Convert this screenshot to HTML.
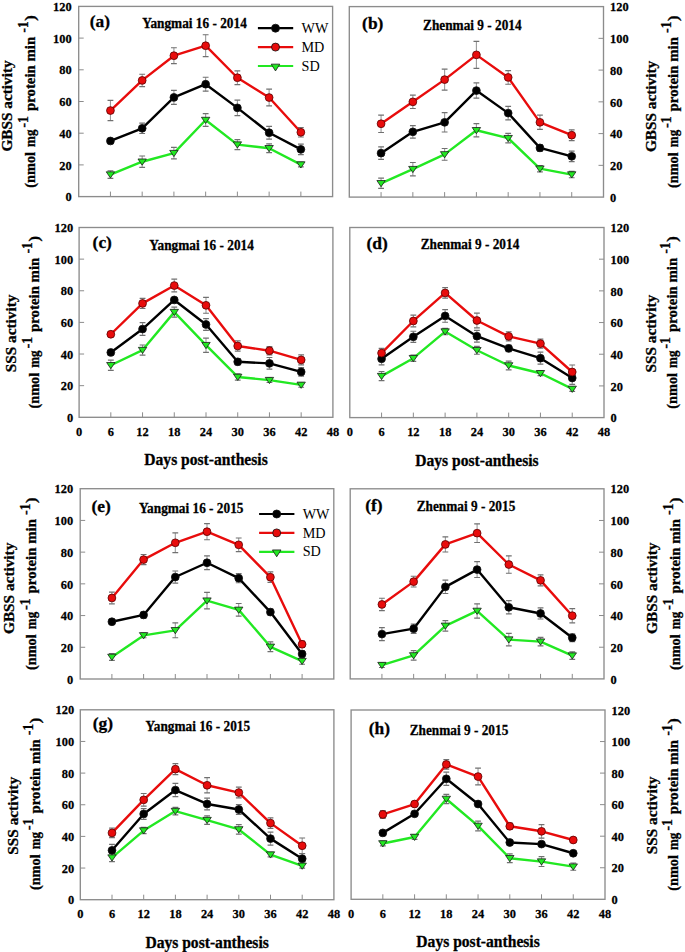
<!DOCTYPE html>
<html><head><meta charset="utf-8"><style>
html,body{margin:0;padding:0;background:#fff;}
svg{display:block;}
text{font-family:'Liberation Serif', serif;fill:#000;}
.tk{font-size:12.4px;font-weight:bold;stroke:#000;stroke-width:0.25px;}
.xt{font-size:15.6px;font-weight:bold;stroke:#000;stroke-width:0.3px;}
.tt{font-size:13.3px;font-weight:bold;stroke:#000;stroke-width:0.25px;}
.lb{font-size:17.4px;font-weight:bold;stroke:#000;stroke-width:0.3px;}
.lg{font-size:14.2px;}
.yt{font-size:15.3px;font-weight:bold;stroke:#000;stroke-width:0.3px;}
.yt2{font-size:14.5px;font-weight:bold;stroke:#000;stroke-width:0.3px;}
.yt2s{font-size:14.0px;font-weight:bold;stroke:#000;stroke-width:0.3px;}
</style></head><body>
<svg width="685" height="952" viewBox="0 0 685 952">
<rect width="685" height="952" fill="#fff"/>
<rect x="78.7" y="6.4" width="253.9" height="190.2" fill="none" stroke="#8c8c8c" stroke-width="1.35"/>
<line x1="110.44" y1="196.6" x2="110.44" y2="191.6" stroke="#8c8c8c" stroke-width="1"/>
<line x1="142.18" y1="196.6" x2="142.18" y2="191.6" stroke="#8c8c8c" stroke-width="1"/>
<line x1="173.91" y1="196.6" x2="173.91" y2="191.6" stroke="#8c8c8c" stroke-width="1"/>
<line x1="205.65" y1="196.6" x2="205.65" y2="191.6" stroke="#8c8c8c" stroke-width="1"/>
<line x1="237.39" y1="196.6" x2="237.39" y2="191.6" stroke="#8c8c8c" stroke-width="1"/>
<line x1="269.13" y1="196.6" x2="269.13" y2="191.6" stroke="#8c8c8c" stroke-width="1"/>
<line x1="300.86" y1="196.6" x2="300.86" y2="191.6" stroke="#8c8c8c" stroke-width="1"/>
<line x1="78.7" y1="164.9" x2="83.7" y2="164.9" stroke="#8c8c8c" stroke-width="1"/>
<line x1="78.7" y1="133.2" x2="83.7" y2="133.2" stroke="#8c8c8c" stroke-width="1"/>
<line x1="78.7" y1="101.5" x2="83.7" y2="101.5" stroke="#8c8c8c" stroke-width="1"/>
<line x1="78.7" y1="69.8" x2="83.7" y2="69.8" stroke="#8c8c8c" stroke-width="1"/>
<line x1="78.7" y1="38.1" x2="83.7" y2="38.1" stroke="#8c8c8c" stroke-width="1"/>
<text transform="translate(71.7 196.6) scale(1 1.08)" y="4.3" text-anchor="end" class="tk">0</text>
<text transform="translate(71.7 164.9) scale(1 1.08)" y="4.3" text-anchor="end" class="tk">20</text>
<text transform="translate(71.7 133.2) scale(1 1.08)" y="4.3" text-anchor="end" class="tk">40</text>
<text transform="translate(71.7 101.5) scale(1 1.08)" y="4.3" text-anchor="end" class="tk">60</text>
<text transform="translate(71.7 69.8) scale(1 1.08)" y="4.3" text-anchor="end" class="tk">80</text>
<text transform="translate(71.7 38.1) scale(1 1.08)" y="4.3" text-anchor="end" class="tk">100</text>
<text transform="translate(71.7 6.4) scale(1 1.08)" y="4.3" text-anchor="end" class="tk">120</text>
<path d="M110.44 170.76V178.37" stroke="#9a9a9a" stroke-width="1.1" fill="none"/>
<path d="M107.54 170.76H113.34M107.54 178.37H113.34" stroke="#707070" stroke-width="1.2" fill="none"/>
<path d="M142.18 156.02V167.44" stroke="#9a9a9a" stroke-width="1.1" fill="none"/>
<path d="M139.28 156.02H145.08M139.28 167.44H145.08" stroke="#707070" stroke-width="1.2" fill="none"/>
<path d="M173.91 147.47V158.88" stroke="#9a9a9a" stroke-width="1.1" fill="none"/>
<path d="M171.01 147.47H176.81M171.01 158.88H176.81" stroke="#707070" stroke-width="1.2" fill="none"/>
<path d="M205.65 113.7V126.38" stroke="#9a9a9a" stroke-width="1.1" fill="none"/>
<path d="M202.75 113.7H208.55M202.75 126.38H208.55" stroke="#707070" stroke-width="1.2" fill="none"/>
<path d="M237.39 139.7V149.53" stroke="#9a9a9a" stroke-width="1.1" fill="none"/>
<path d="M234.49 139.7H240.29M234.49 149.53H240.29" stroke="#707070" stroke-width="1.2" fill="none"/>
<path d="M269.13 143.82V152.7" stroke="#9a9a9a" stroke-width="1.1" fill="none"/>
<path d="M266.23 143.82H272.03M266.23 152.7H272.03" stroke="#707070" stroke-width="1.2" fill="none"/>
<path d="M300.86 162.21V166.96" stroke="#9a9a9a" stroke-width="1.1" fill="none"/>
<path d="M297.96 162.21H303.76M297.96 166.96H303.76" stroke="#707070" stroke-width="1.2" fill="none"/>
<path d="M110.44 138.59V143.34" stroke="#9a9a9a" stroke-width="1.1" fill="none"/>
<path d="M107.54 138.59H113.34M107.54 143.34H113.34" stroke="#707070" stroke-width="1.2" fill="none"/>
<path d="M142.18 123.06V133.52" stroke="#9a9a9a" stroke-width="1.1" fill="none"/>
<path d="M139.28 123.06H145.08M139.28 133.52H145.08" stroke="#707070" stroke-width="1.2" fill="none"/>
<path d="M173.91 90.41V104.35" stroke="#9a9a9a" stroke-width="1.1" fill="none"/>
<path d="M171.01 90.41H176.81M171.01 104.35H176.81" stroke="#707070" stroke-width="1.2" fill="none"/>
<path d="M205.65 77.25V91.2" stroke="#9a9a9a" stroke-width="1.1" fill="none"/>
<path d="M202.75 77.25H208.55M202.75 91.2H208.55" stroke="#707070" stroke-width="1.2" fill="none"/>
<path d="M237.39 100.07V115.61" stroke="#9a9a9a" stroke-width="1.1" fill="none"/>
<path d="M234.49 100.07H240.29M234.49 115.61H240.29" stroke="#707070" stroke-width="1.2" fill="none"/>
<path d="M269.13 126.38V139.06" stroke="#9a9a9a" stroke-width="1.1" fill="none"/>
<path d="M266.23 126.38H272.03M266.23 139.06H272.03" stroke="#707070" stroke-width="1.2" fill="none"/>
<path d="M300.86 144.14V154.6" stroke="#9a9a9a" stroke-width="1.1" fill="none"/>
<path d="M297.96 144.14H303.76M297.96 154.6H303.76" stroke="#707070" stroke-width="1.2" fill="none"/>
<path d="M110.44 100.39V120.68" stroke="#9a9a9a" stroke-width="1.1" fill="none"/>
<path d="M107.54 100.39H113.34M107.54 120.68H113.34" stroke="#707070" stroke-width="1.2" fill="none"/>
<path d="M142.18 74.24V86.6" stroke="#9a9a9a" stroke-width="1.1" fill="none"/>
<path d="M139.28 74.24H145.08M139.28 86.6H145.08" stroke="#707070" stroke-width="1.2" fill="none"/>
<path d="M173.91 47.77V63.62" stroke="#9a9a9a" stroke-width="1.1" fill="none"/>
<path d="M171.01 47.77H176.81M171.01 63.62H176.81" stroke="#707070" stroke-width="1.2" fill="none"/>
<path d="M205.65 34.77V56.64" stroke="#9a9a9a" stroke-width="1.1" fill="none"/>
<path d="M202.75 34.77H208.55M202.75 56.64H208.55" stroke="#707070" stroke-width="1.2" fill="none"/>
<path d="M237.39 70.91V84.54" stroke="#9a9a9a" stroke-width="1.1" fill="none"/>
<path d="M234.49 70.91H240.29M234.49 84.54H240.29" stroke="#707070" stroke-width="1.2" fill="none"/>
<path d="M269.13 89.14V105.94" stroke="#9a9a9a" stroke-width="1.1" fill="none"/>
<path d="M266.23 89.14H272.03M266.23 105.94H272.03" stroke="#707070" stroke-width="1.2" fill="none"/>
<path d="M300.86 127.49V137" stroke="#9a9a9a" stroke-width="1.1" fill="none"/>
<path d="M297.96 127.49H303.76M297.96 137H303.76" stroke="#707070" stroke-width="1.2" fill="none"/>
<polyline points="110.44,174.57 142.18,161.73 173.91,153.17 205.65,120.04 237.39,144.61 269.13,148.26 300.86,164.58" fill="none" stroke="#22e822" stroke-width="2.4" stroke-linejoin="round"/>
<path d="M106.24 171.82H114.64L110.44 178.02Z" fill="#22e822" stroke="#1a1a1a" stroke-width="0.8"/>
<path d="M137.98 158.98H146.38L142.18 165.18Z" fill="#22e822" stroke="#1a1a1a" stroke-width="0.8"/>
<path d="M169.71 150.42H178.11L173.91 156.62Z" fill="#22e822" stroke="#1a1a1a" stroke-width="0.8"/>
<path d="M201.45 117.29H209.85L205.65 123.49Z" fill="#22e822" stroke="#1a1a1a" stroke-width="0.8"/>
<path d="M233.19 141.86H241.59L237.39 148.06Z" fill="#22e822" stroke="#1a1a1a" stroke-width="0.8"/>
<path d="M264.93 145.51H273.33L269.13 151.71Z" fill="#22e822" stroke="#1a1a1a" stroke-width="0.8"/>
<path d="M296.66 161.83H305.06L300.86 168.03Z" fill="#22e822" stroke="#1a1a1a" stroke-width="0.8"/>
<polyline points="110.44,140.97 142.18,128.29 173.91,97.38 205.65,84.22 237.39,107.84 269.13,132.72 300.86,149.37" fill="none" stroke="#000" stroke-width="2.4" stroke-linejoin="round"/>
<circle cx="110.44" cy="140.97" r="3.9" fill="#000" stroke="#111" stroke-width="0.8"/>
<circle cx="142.18" cy="128.29" r="3.9" fill="#000" stroke="#111" stroke-width="0.8"/>
<circle cx="173.91" cy="97.38" r="3.9" fill="#000" stroke="#111" stroke-width="0.8"/>
<circle cx="205.65" cy="84.22" r="3.9" fill="#000" stroke="#111" stroke-width="0.8"/>
<circle cx="237.39" cy="107.84" r="3.9" fill="#000" stroke="#111" stroke-width="0.8"/>
<circle cx="269.13" cy="132.72" r="3.9" fill="#000" stroke="#111" stroke-width="0.8"/>
<circle cx="300.86" cy="149.37" r="3.9" fill="#000" stroke="#111" stroke-width="0.8"/>
<polyline points="110.44,110.53 142.18,80.42 173.91,55.69 205.65,45.71 237.39,77.72 269.13,97.54 300.86,132.25" fill="none" stroke="#e80c0c" stroke-width="2.4" stroke-linejoin="round"/>
<circle cx="110.44" cy="110.53" r="3.9" fill="#e80c0c" stroke="#5a0000" stroke-width="0.8"/>
<circle cx="142.18" cy="80.42" r="3.9" fill="#e80c0c" stroke="#5a0000" stroke-width="0.8"/>
<circle cx="173.91" cy="55.69" r="3.9" fill="#e80c0c" stroke="#5a0000" stroke-width="0.8"/>
<circle cx="205.65" cy="45.71" r="3.9" fill="#e80c0c" stroke="#5a0000" stroke-width="0.8"/>
<circle cx="237.39" cy="77.72" r="3.9" fill="#e80c0c" stroke="#5a0000" stroke-width="0.8"/>
<circle cx="269.13" cy="97.54" r="3.9" fill="#e80c0c" stroke="#5a0000" stroke-width="0.8"/>
<circle cx="300.86" cy="132.25" r="3.9" fill="#e80c0c" stroke="#5a0000" stroke-width="0.8"/>
<text transform="translate(89.8 27) scale(1 1.0)" class="lb">(a)</text>
<rect x="349.3" y="6.6" width="254.2" height="190.5" fill="none" stroke="#8c8c8c" stroke-width="1.35"/>
<line x1="381.07" y1="197.1" x2="381.07" y2="192.1" stroke="#8c8c8c" stroke-width="1"/>
<line x1="412.85" y1="197.1" x2="412.85" y2="192.1" stroke="#8c8c8c" stroke-width="1"/>
<line x1="444.62" y1="197.1" x2="444.62" y2="192.1" stroke="#8c8c8c" stroke-width="1"/>
<line x1="476.4" y1="197.1" x2="476.4" y2="192.1" stroke="#8c8c8c" stroke-width="1"/>
<line x1="508.18" y1="197.1" x2="508.18" y2="192.1" stroke="#8c8c8c" stroke-width="1"/>
<line x1="539.95" y1="197.1" x2="539.95" y2="192.1" stroke="#8c8c8c" stroke-width="1"/>
<line x1="571.73" y1="197.1" x2="571.73" y2="192.1" stroke="#8c8c8c" stroke-width="1"/>
<line x1="603.5" y1="165.35" x2="598.5" y2="165.35" stroke="#8c8c8c" stroke-width="1"/>
<line x1="603.5" y1="133.6" x2="598.5" y2="133.6" stroke="#8c8c8c" stroke-width="1"/>
<line x1="603.5" y1="101.85" x2="598.5" y2="101.85" stroke="#8c8c8c" stroke-width="1"/>
<line x1="603.5" y1="70.1" x2="598.5" y2="70.1" stroke="#8c8c8c" stroke-width="1"/>
<line x1="603.5" y1="38.35" x2="598.5" y2="38.35" stroke="#8c8c8c" stroke-width="1"/>
<text transform="translate(610 197.1) scale(1 1.08)" y="4.3" text-anchor="start" class="tk">0</text>
<text transform="translate(610 165.35) scale(1 1.08)" y="4.3" text-anchor="start" class="tk">20</text>
<text transform="translate(610 133.6) scale(1 1.08)" y="4.3" text-anchor="start" class="tk">40</text>
<text transform="translate(610 101.85) scale(1 1.08)" y="4.3" text-anchor="start" class="tk">60</text>
<text transform="translate(610 70.1) scale(1 1.08)" y="4.3" text-anchor="start" class="tk">80</text>
<text transform="translate(610 38.35) scale(1 1.08)" y="4.3" text-anchor="start" class="tk">100</text>
<text transform="translate(610 6.6) scale(1 1.08)" y="4.3" text-anchor="start" class="tk">120</text>
<path d="M381.07 178.21V188.37" stroke="#9a9a9a" stroke-width="1.1" fill="none"/>
<path d="M378.18 178.21H383.97M378.18 188.37H383.97" stroke="#707070" stroke-width="1.2" fill="none"/>
<path d="M412.85 162.49V175.83" stroke="#9a9a9a" stroke-width="1.1" fill="none"/>
<path d="M409.95 162.49H415.75M409.95 175.83H415.75" stroke="#707070" stroke-width="1.2" fill="none"/>
<path d="M444.62 148.52V160.27" stroke="#9a9a9a" stroke-width="1.1" fill="none"/>
<path d="M441.73 148.52H447.52M441.73 160.27H447.52" stroke="#707070" stroke-width="1.2" fill="none"/>
<path d="M476.4 123.6V136.93" stroke="#9a9a9a" stroke-width="1.1" fill="none"/>
<path d="M473.5 123.6H479.3M473.5 136.93H479.3" stroke="#707070" stroke-width="1.2" fill="none"/>
<path d="M508.18 133.44V142.97" stroke="#9a9a9a" stroke-width="1.1" fill="none"/>
<path d="M505.28 133.44H511.07M505.28 142.97H511.07" stroke="#707070" stroke-width="1.2" fill="none"/>
<path d="M539.95 165.51V171.86" stroke="#9a9a9a" stroke-width="1.1" fill="none"/>
<path d="M537.05 165.51H542.85M537.05 171.86H542.85" stroke="#707070" stroke-width="1.2" fill="none"/>
<path d="M571.73 171.38V177.73" stroke="#9a9a9a" stroke-width="1.1" fill="none"/>
<path d="M568.83 171.38H574.62M568.83 177.73H574.62" stroke="#707070" stroke-width="1.2" fill="none"/>
<path d="M381.07 146.94V159.32" stroke="#9a9a9a" stroke-width="1.1" fill="none"/>
<path d="M378.18 146.94H383.97M378.18 159.32H383.97" stroke="#707070" stroke-width="1.2" fill="none"/>
<path d="M412.85 125.66V138.04" stroke="#9a9a9a" stroke-width="1.1" fill="none"/>
<path d="M409.95 125.66H415.75M409.95 138.04H415.75" stroke="#707070" stroke-width="1.2" fill="none"/>
<path d="M444.62 112.64V132.01" stroke="#9a9a9a" stroke-width="1.1" fill="none"/>
<path d="M441.73 112.64H447.52M441.73 132.01H447.52" stroke="#707070" stroke-width="1.2" fill="none"/>
<path d="M476.4 82.96V98.2" stroke="#9a9a9a" stroke-width="1.1" fill="none"/>
<path d="M473.5 82.96H479.3M473.5 98.2H479.3" stroke="#707070" stroke-width="1.2" fill="none"/>
<path d="M508.18 106.3V119.95" stroke="#9a9a9a" stroke-width="1.1" fill="none"/>
<path d="M505.28 106.3H511.07M505.28 119.95H511.07" stroke="#707070" stroke-width="1.2" fill="none"/>
<path d="M539.95 144.71V151.06" stroke="#9a9a9a" stroke-width="1.1" fill="none"/>
<path d="M537.05 144.71H542.85M537.05 151.06H542.85" stroke="#707070" stroke-width="1.2" fill="none"/>
<path d="M571.73 151.06V161.54" stroke="#9a9a9a" stroke-width="1.1" fill="none"/>
<path d="M568.83 151.06H574.62M568.83 161.54H574.62" stroke="#707070" stroke-width="1.2" fill="none"/>
<path d="M381.07 115.03V132.49" stroke="#9a9a9a" stroke-width="1.1" fill="none"/>
<path d="M378.18 115.03H383.97M378.18 132.49H383.97" stroke="#707070" stroke-width="1.2" fill="none"/>
<path d="M412.85 95.18V108.52" stroke="#9a9a9a" stroke-width="1.1" fill="none"/>
<path d="M409.95 95.18H415.75M409.95 108.52H415.75" stroke="#707070" stroke-width="1.2" fill="none"/>
<path d="M444.62 69.15V90.1" stroke="#9a9a9a" stroke-width="1.1" fill="none"/>
<path d="M441.73 69.15H447.52M441.73 90.1H447.52" stroke="#707070" stroke-width="1.2" fill="none"/>
<path d="M476.4 41.37V68.35" stroke="#9a9a9a" stroke-width="1.1" fill="none"/>
<path d="M473.5 41.37H479.3M473.5 68.35H479.3" stroke="#707070" stroke-width="1.2" fill="none"/>
<path d="M508.18 70.58V84.23" stroke="#9a9a9a" stroke-width="1.1" fill="none"/>
<path d="M505.28 70.58H511.07M505.28 84.23H511.07" stroke="#707070" stroke-width="1.2" fill="none"/>
<path d="M539.95 115.18V129.47" stroke="#9a9a9a" stroke-width="1.1" fill="none"/>
<path d="M537.05 115.18H542.85M537.05 129.47H542.85" stroke="#707070" stroke-width="1.2" fill="none"/>
<path d="M571.73 129.79V140.58" stroke="#9a9a9a" stroke-width="1.1" fill="none"/>
<path d="M568.83 129.79H574.62M568.83 140.58H574.62" stroke="#707070" stroke-width="1.2" fill="none"/>
<polyline points="381.07,183.29 412.85,169.16 444.62,154.4 476.4,130.27 508.18,138.2 539.95,168.68 571.73,174.56" fill="none" stroke="#22e822" stroke-width="2.4" stroke-linejoin="round"/>
<path d="M376.88 180.54H385.27L381.07 186.74Z" fill="#22e822" stroke="#1a1a1a" stroke-width="0.8"/>
<path d="M408.65 166.41H417.05L412.85 172.61Z" fill="#22e822" stroke="#1a1a1a" stroke-width="0.8"/>
<path d="M440.43 151.65H448.82L444.62 157.85Z" fill="#22e822" stroke="#1a1a1a" stroke-width="0.8"/>
<path d="M472.2 127.52H480.6L476.4 133.72Z" fill="#22e822" stroke="#1a1a1a" stroke-width="0.8"/>
<path d="M503.98 135.45H512.38L508.18 141.65Z" fill="#22e822" stroke="#1a1a1a" stroke-width="0.8"/>
<path d="M535.75 165.93H544.15L539.95 172.13Z" fill="#22e822" stroke="#1a1a1a" stroke-width="0.8"/>
<path d="M567.52 171.81H575.93L571.73 178.01Z" fill="#22e822" stroke="#1a1a1a" stroke-width="0.8"/>
<polyline points="381.07,153.13 412.85,131.85 444.62,122.33 476.4,90.58 508.18,113.12 539.95,147.89 571.73,156.3" fill="none" stroke="#000" stroke-width="2.4" stroke-linejoin="round"/>
<circle cx="381.07" cy="153.13" r="3.9" fill="#000" stroke="#111" stroke-width="0.8"/>
<circle cx="412.85" cy="131.85" r="3.9" fill="#000" stroke="#111" stroke-width="0.8"/>
<circle cx="444.62" cy="122.33" r="3.9" fill="#000" stroke="#111" stroke-width="0.8"/>
<circle cx="476.4" cy="90.58" r="3.9" fill="#000" stroke="#111" stroke-width="0.8"/>
<circle cx="508.18" cy="113.12" r="3.9" fill="#000" stroke="#111" stroke-width="0.8"/>
<circle cx="539.95" cy="147.89" r="3.9" fill="#000" stroke="#111" stroke-width="0.8"/>
<circle cx="571.73" cy="156.3" r="3.9" fill="#000" stroke="#111" stroke-width="0.8"/>
<polyline points="381.07,123.76 412.85,101.85 444.62,79.62 476.4,54.86 508.18,77.4 539.95,122.33 571.73,135.19" fill="none" stroke="#e80c0c" stroke-width="2.4" stroke-linejoin="round"/>
<circle cx="381.07" cy="123.76" r="3.9" fill="#e80c0c" stroke="#5a0000" stroke-width="0.8"/>
<circle cx="412.85" cy="101.85" r="3.9" fill="#e80c0c" stroke="#5a0000" stroke-width="0.8"/>
<circle cx="444.62" cy="79.62" r="3.9" fill="#e80c0c" stroke="#5a0000" stroke-width="0.8"/>
<circle cx="476.4" cy="54.86" r="3.9" fill="#e80c0c" stroke="#5a0000" stroke-width="0.8"/>
<circle cx="508.18" cy="77.4" r="3.9" fill="#e80c0c" stroke="#5a0000" stroke-width="0.8"/>
<circle cx="539.95" cy="122.33" r="3.9" fill="#e80c0c" stroke="#5a0000" stroke-width="0.8"/>
<circle cx="571.73" cy="135.19" r="3.9" fill="#e80c0c" stroke="#5a0000" stroke-width="0.8"/>
<text transform="translate(362.1 29.1) scale(1 1.0)" class="lb">(b)</text>
<rect x="79.1" y="227.5" width="253.8" height="189.8" fill="none" stroke="#8c8c8c" stroke-width="1.35"/>
<line x1="110.82" y1="417.3" x2="110.82" y2="412.3" stroke="#8c8c8c" stroke-width="1"/>
<line x1="142.55" y1="417.3" x2="142.55" y2="412.3" stroke="#8c8c8c" stroke-width="1"/>
<line x1="174.27" y1="417.3" x2="174.27" y2="412.3" stroke="#8c8c8c" stroke-width="1"/>
<line x1="206" y1="417.3" x2="206" y2="412.3" stroke="#8c8c8c" stroke-width="1"/>
<line x1="237.72" y1="417.3" x2="237.72" y2="412.3" stroke="#8c8c8c" stroke-width="1"/>
<line x1="269.45" y1="417.3" x2="269.45" y2="412.3" stroke="#8c8c8c" stroke-width="1"/>
<line x1="301.17" y1="417.3" x2="301.17" y2="412.3" stroke="#8c8c8c" stroke-width="1"/>
<line x1="79.1" y1="385.67" x2="84.1" y2="385.67" stroke="#8c8c8c" stroke-width="1"/>
<line x1="79.1" y1="354.03" x2="84.1" y2="354.03" stroke="#8c8c8c" stroke-width="1"/>
<line x1="79.1" y1="322.4" x2="84.1" y2="322.4" stroke="#8c8c8c" stroke-width="1"/>
<line x1="79.1" y1="290.77" x2="84.1" y2="290.77" stroke="#8c8c8c" stroke-width="1"/>
<line x1="79.1" y1="259.13" x2="84.1" y2="259.13" stroke="#8c8c8c" stroke-width="1"/>
<text transform="translate(73.1 417.3) scale(1 1.08)" y="4.3" text-anchor="end" class="tk">0</text>
<text transform="translate(73.1 385.67) scale(1 1.08)" y="4.3" text-anchor="end" class="tk">20</text>
<text transform="translate(73.1 354.03) scale(1 1.08)" y="4.3" text-anchor="end" class="tk">40</text>
<text transform="translate(73.1 322.4) scale(1 1.08)" y="4.3" text-anchor="end" class="tk">60</text>
<text transform="translate(73.1 290.77) scale(1 1.08)" y="4.3" text-anchor="end" class="tk">80</text>
<text transform="translate(73.1 259.13) scale(1 1.08)" y="4.3" text-anchor="end" class="tk">100</text>
<text transform="translate(73.1 227.5) scale(1 1.08)" y="4.3" text-anchor="end" class="tk">120</text>
<text transform="translate(79.1 430.9) scale(1 1.08)" y="4.3" text-anchor="middle" class="tk">0</text>
<text transform="translate(110.82 430.9) scale(1 1.08)" y="4.3" text-anchor="middle" class="tk">6</text>
<text transform="translate(142.55 430.9) scale(1 1.08)" y="4.3" text-anchor="middle" class="tk">12</text>
<text transform="translate(174.27 430.9) scale(1 1.08)" y="4.3" text-anchor="middle" class="tk">18</text>
<text transform="translate(206 430.9) scale(1 1.08)" y="4.3" text-anchor="middle" class="tk">24</text>
<text transform="translate(237.72 430.9) scale(1 1.08)" y="4.3" text-anchor="middle" class="tk">30</text>
<text transform="translate(269.45 430.9) scale(1 1.08)" y="4.3" text-anchor="middle" class="tk">36</text>
<text transform="translate(301.17 430.9) scale(1 1.08)" y="4.3" text-anchor="middle" class="tk">42</text>
<text transform="translate(332.9 430.9) scale(1 1.08)" y="4.3" text-anchor="middle" class="tk">48</text>
<text transform="translate(206 465.3) scale(1 1.06)" text-anchor="middle" class="xt">Days post-anthesis</text>
<path d="M110.82 360.2V370.32" stroke="#9a9a9a" stroke-width="1.1" fill="none"/>
<path d="M107.92 360.2H113.72M107.92 370.32H113.72" stroke="#707070" stroke-width="1.2" fill="none"/>
<path d="M142.55 345.02V355.14" stroke="#9a9a9a" stroke-width="1.1" fill="none"/>
<path d="M139.65 345.02H145.45M139.65 355.14H145.45" stroke="#707070" stroke-width="1.2" fill="none"/>
<path d="M174.27 307.06V317.18" stroke="#9a9a9a" stroke-width="1.1" fill="none"/>
<path d="M171.37 307.06H177.17M171.37 317.18H177.17" stroke="#707070" stroke-width="1.2" fill="none"/>
<path d="M206 338.06V352.29" stroke="#9a9a9a" stroke-width="1.1" fill="none"/>
<path d="M203.1 338.06H208.9M203.1 352.29H208.9" stroke="#707070" stroke-width="1.2" fill="none"/>
<path d="M237.72 373.8V380.13" stroke="#9a9a9a" stroke-width="1.1" fill="none"/>
<path d="M234.82 373.8H240.62M234.82 380.13H240.62" stroke="#707070" stroke-width="1.2" fill="none"/>
<path d="M269.45 377.76V382.5" stroke="#9a9a9a" stroke-width="1.1" fill="none"/>
<path d="M266.55 377.76H272.35M266.55 382.5H272.35" stroke="#707070" stroke-width="1.2" fill="none"/>
<path d="M301.17 382.5V387.25" stroke="#9a9a9a" stroke-width="1.1" fill="none"/>
<path d="M298.27 382.5H304.07M298.27 387.25H304.07" stroke="#707070" stroke-width="1.2" fill="none"/>
<path d="M110.82 350.08V354.82" stroke="#9a9a9a" stroke-width="1.1" fill="none"/>
<path d="M107.92 350.08H113.72M107.92 354.82H113.72" stroke="#707070" stroke-width="1.2" fill="none"/>
<path d="M142.55 322.72V335.37" stroke="#9a9a9a" stroke-width="1.1" fill="none"/>
<path d="M139.65 322.72H145.45M139.65 335.37H145.45" stroke="#707070" stroke-width="1.2" fill="none"/>
<path d="M174.27 297.57V302.31" stroke="#9a9a9a" stroke-width="1.1" fill="none"/>
<path d="M171.37 297.57H177.17M171.37 302.31H177.17" stroke="#707070" stroke-width="1.2" fill="none"/>
<path d="M206 318.6V330.31" stroke="#9a9a9a" stroke-width="1.1" fill="none"/>
<path d="M203.1 318.6H208.9M203.1 330.31H208.9" stroke="#707070" stroke-width="1.2" fill="none"/>
<path d="M237.72 358.62V364.95" stroke="#9a9a9a" stroke-width="1.1" fill="none"/>
<path d="M234.82 358.62H240.62M234.82 364.95H240.62" stroke="#707070" stroke-width="1.2" fill="none"/>
<path d="M269.45 357.51V369.22" stroke="#9a9a9a" stroke-width="1.1" fill="none"/>
<path d="M266.55 357.51H272.35M266.55 369.22H272.35" stroke="#707070" stroke-width="1.2" fill="none"/>
<path d="M301.17 367.64V376.18" stroke="#9a9a9a" stroke-width="1.1" fill="none"/>
<path d="M298.27 367.64H304.07M298.27 376.18H304.07" stroke="#707070" stroke-width="1.2" fill="none"/>
<path d="M110.82 331.89V336.63" stroke="#9a9a9a" stroke-width="1.1" fill="none"/>
<path d="M107.92 331.89H113.72M107.92 336.63H113.72" stroke="#707070" stroke-width="1.2" fill="none"/>
<path d="M142.55 298.36V308.48" stroke="#9a9a9a" stroke-width="1.1" fill="none"/>
<path d="M139.65 298.36H145.45M139.65 308.48H145.45" stroke="#707070" stroke-width="1.2" fill="none"/>
<path d="M174.27 279.22V291.87" stroke="#9a9a9a" stroke-width="1.1" fill="none"/>
<path d="M171.37 279.22H177.17M171.37 291.87H177.17" stroke="#707070" stroke-width="1.2" fill="none"/>
<path d="M206 297.41V313.23" stroke="#9a9a9a" stroke-width="1.1" fill="none"/>
<path d="M203.1 297.41H208.9M203.1 313.23H208.9" stroke="#707070" stroke-width="1.2" fill="none"/>
<path d="M237.72 340.91V351.03" stroke="#9a9a9a" stroke-width="1.1" fill="none"/>
<path d="M234.82 340.91H240.62M234.82 351.03H240.62" stroke="#707070" stroke-width="1.2" fill="none"/>
<path d="M269.45 346.6V354.82" stroke="#9a9a9a" stroke-width="1.1" fill="none"/>
<path d="M266.55 346.6H272.35M266.55 354.82H272.35" stroke="#707070" stroke-width="1.2" fill="none"/>
<path d="M301.17 354.82V364.95" stroke="#9a9a9a" stroke-width="1.1" fill="none"/>
<path d="M298.27 354.82H304.07M298.27 364.95H304.07" stroke="#707070" stroke-width="1.2" fill="none"/>
<polyline points="110.82,365.26 142.55,350.08 174.27,312.12 206,345.18 237.72,376.97 269.45,380.13 301.17,384.88" fill="none" stroke="#22e822" stroke-width="2.4" stroke-linejoin="round"/>
<path d="M106.62 362.51H115.02L110.82 368.71Z" fill="#22e822" stroke="#1a1a1a" stroke-width="0.8"/>
<path d="M138.35 347.33H146.75L142.55 353.53Z" fill="#22e822" stroke="#1a1a1a" stroke-width="0.8"/>
<path d="M170.07 309.37H178.47L174.27 315.57Z" fill="#22e822" stroke="#1a1a1a" stroke-width="0.8"/>
<path d="M201.8 342.43H210.2L206 348.63Z" fill="#22e822" stroke="#1a1a1a" stroke-width="0.8"/>
<path d="M233.52 374.22H241.92L237.72 380.42Z" fill="#22e822" stroke="#1a1a1a" stroke-width="0.8"/>
<path d="M265.25 377.38H273.65L269.45 383.58Z" fill="#22e822" stroke="#1a1a1a" stroke-width="0.8"/>
<path d="M296.97 382.13H305.37L301.17 388.33Z" fill="#22e822" stroke="#1a1a1a" stroke-width="0.8"/>
<polyline points="110.82,352.45 142.55,329.04 174.27,299.94 206,324.46 237.72,361.78 269.45,363.37 301.17,371.91" fill="none" stroke="#000" stroke-width="2.4" stroke-linejoin="round"/>
<circle cx="110.82" cy="352.45" r="3.9" fill="#000" stroke="#111" stroke-width="0.8"/>
<circle cx="142.55" cy="329.04" r="3.9" fill="#000" stroke="#111" stroke-width="0.8"/>
<circle cx="174.27" cy="299.94" r="3.9" fill="#000" stroke="#111" stroke-width="0.8"/>
<circle cx="206" cy="324.46" r="3.9" fill="#000" stroke="#111" stroke-width="0.8"/>
<circle cx="237.72" cy="361.78" r="3.9" fill="#000" stroke="#111" stroke-width="0.8"/>
<circle cx="269.45" cy="363.37" r="3.9" fill="#000" stroke="#111" stroke-width="0.8"/>
<circle cx="301.17" cy="371.91" r="3.9" fill="#000" stroke="#111" stroke-width="0.8"/>
<polyline points="110.82,334.26 142.55,303.42 174.27,285.55 206,305.32 237.72,345.97 269.45,350.71 301.17,359.89" fill="none" stroke="#e80c0c" stroke-width="2.4" stroke-linejoin="round"/>
<circle cx="110.82" cy="334.26" r="3.9" fill="#e80c0c" stroke="#5a0000" stroke-width="0.8"/>
<circle cx="142.55" cy="303.42" r="3.9" fill="#e80c0c" stroke="#5a0000" stroke-width="0.8"/>
<circle cx="174.27" cy="285.55" r="3.9" fill="#e80c0c" stroke="#5a0000" stroke-width="0.8"/>
<circle cx="206" cy="305.32" r="3.9" fill="#e80c0c" stroke="#5a0000" stroke-width="0.8"/>
<circle cx="237.72" cy="345.97" r="3.9" fill="#e80c0c" stroke="#5a0000" stroke-width="0.8"/>
<circle cx="269.45" cy="350.71" r="3.9" fill="#e80c0c" stroke="#5a0000" stroke-width="0.8"/>
<circle cx="301.17" cy="359.89" r="3.9" fill="#e80c0c" stroke="#5a0000" stroke-width="0.8"/>
<text transform="translate(92.6 248) scale(1 1.0)" class="lb">(c)</text>
<rect x="349.8" y="227.5" width="254.2" height="190.1" fill="none" stroke="#8c8c8c" stroke-width="1.35"/>
<line x1="381.57" y1="417.6" x2="381.57" y2="412.6" stroke="#8c8c8c" stroke-width="1"/>
<line x1="413.35" y1="417.6" x2="413.35" y2="412.6" stroke="#8c8c8c" stroke-width="1"/>
<line x1="445.12" y1="417.6" x2="445.12" y2="412.6" stroke="#8c8c8c" stroke-width="1"/>
<line x1="476.9" y1="417.6" x2="476.9" y2="412.6" stroke="#8c8c8c" stroke-width="1"/>
<line x1="508.68" y1="417.6" x2="508.68" y2="412.6" stroke="#8c8c8c" stroke-width="1"/>
<line x1="540.45" y1="417.6" x2="540.45" y2="412.6" stroke="#8c8c8c" stroke-width="1"/>
<line x1="572.23" y1="417.6" x2="572.23" y2="412.6" stroke="#8c8c8c" stroke-width="1"/>
<line x1="604" y1="385.92" x2="599" y2="385.92" stroke="#8c8c8c" stroke-width="1"/>
<line x1="604" y1="354.23" x2="599" y2="354.23" stroke="#8c8c8c" stroke-width="1"/>
<line x1="604" y1="322.55" x2="599" y2="322.55" stroke="#8c8c8c" stroke-width="1"/>
<line x1="604" y1="290.87" x2="599" y2="290.87" stroke="#8c8c8c" stroke-width="1"/>
<line x1="604" y1="259.18" x2="599" y2="259.18" stroke="#8c8c8c" stroke-width="1"/>
<text transform="translate(610.5 417.6) scale(1 1.08)" y="4.3" text-anchor="start" class="tk">0</text>
<text transform="translate(610.5 385.92) scale(1 1.08)" y="4.3" text-anchor="start" class="tk">20</text>
<text transform="translate(610.5 354.23) scale(1 1.08)" y="4.3" text-anchor="start" class="tk">40</text>
<text transform="translate(610.5 322.55) scale(1 1.08)" y="4.3" text-anchor="start" class="tk">60</text>
<text transform="translate(610.5 290.87) scale(1 1.08)" y="4.3" text-anchor="start" class="tk">80</text>
<text transform="translate(610.5 259.18) scale(1 1.08)" y="4.3" text-anchor="start" class="tk">100</text>
<text transform="translate(610.5 227.5) scale(1 1.08)" y="4.3" text-anchor="start" class="tk">120</text>
<text transform="translate(349.8 431.2) scale(1 1.08)" y="4.3" text-anchor="middle" class="tk">0</text>
<text transform="translate(381.57 431.2) scale(1 1.08)" y="4.3" text-anchor="middle" class="tk">6</text>
<text transform="translate(413.35 431.2) scale(1 1.08)" y="4.3" text-anchor="middle" class="tk">12</text>
<text transform="translate(445.12 431.2) scale(1 1.08)" y="4.3" text-anchor="middle" class="tk">18</text>
<text transform="translate(476.9 431.2) scale(1 1.08)" y="4.3" text-anchor="middle" class="tk">24</text>
<text transform="translate(508.68 431.2) scale(1 1.08)" y="4.3" text-anchor="middle" class="tk">30</text>
<text transform="translate(540.45 431.2) scale(1 1.08)" y="4.3" text-anchor="middle" class="tk">36</text>
<text transform="translate(572.23 431.2) scale(1 1.08)" y="4.3" text-anchor="middle" class="tk">42</text>
<text transform="translate(604 431.2) scale(1 1.08)" y="4.3" text-anchor="middle" class="tk">48</text>
<text transform="translate(476.9 465.6) scale(1 1.06)" text-anchor="middle" class="xt">Days post-anthesis</text>
<path d="M381.57 371.5V380.69" stroke="#9a9a9a" stroke-width="1.1" fill="none"/>
<path d="M378.68 371.5H384.47M378.68 380.69H384.47" stroke="#707070" stroke-width="1.2" fill="none"/>
<path d="M413.35 355.03V361.36" stroke="#9a9a9a" stroke-width="1.1" fill="none"/>
<path d="M410.45 355.03H416.25M410.45 361.36H416.25" stroke="#707070" stroke-width="1.2" fill="none"/>
<path d="M445.12 328.41V334.75" stroke="#9a9a9a" stroke-width="1.1" fill="none"/>
<path d="M442.23 328.41H448.02M442.23 334.75H448.02" stroke="#707070" stroke-width="1.2" fill="none"/>
<path d="M476.9 346.31V354.23" stroke="#9a9a9a" stroke-width="1.1" fill="none"/>
<path d="M474 346.31H479.8M474 354.23H479.8" stroke="#707070" stroke-width="1.2" fill="none"/>
<path d="M508.68 361.05V369.92" stroke="#9a9a9a" stroke-width="1.1" fill="none"/>
<path d="M505.78 361.05H511.57M505.78 369.92H511.57" stroke="#707070" stroke-width="1.2" fill="none"/>
<path d="M540.45 370.87V375.62" stroke="#9a9a9a" stroke-width="1.1" fill="none"/>
<path d="M537.55 370.87H543.35M537.55 375.62H543.35" stroke="#707070" stroke-width="1.2" fill="none"/>
<path d="M572.23 386.55V391.3" stroke="#9a9a9a" stroke-width="1.1" fill="none"/>
<path d="M569.33 386.55H575.12M569.33 391.3H575.12" stroke="#707070" stroke-width="1.2" fill="none"/>
<path d="M381.57 352.81V364.85" stroke="#9a9a9a" stroke-width="1.1" fill="none"/>
<path d="M378.68 352.81H384.47M378.68 364.85H384.47" stroke="#707070" stroke-width="1.2" fill="none"/>
<path d="M413.35 331.26V342.35" stroke="#9a9a9a" stroke-width="1.1" fill="none"/>
<path d="M410.45 331.26H416.25M410.45 342.35H416.25" stroke="#707070" stroke-width="1.2" fill="none"/>
<path d="M445.12 309.56V322.23" stroke="#9a9a9a" stroke-width="1.1" fill="none"/>
<path d="M442.23 309.56H448.02M442.23 322.23H448.02" stroke="#707070" stroke-width="1.2" fill="none"/>
<path d="M476.9 330.31V342.04" stroke="#9a9a9a" stroke-width="1.1" fill="none"/>
<path d="M474 330.31H479.8M474 342.04H479.8" stroke="#707070" stroke-width="1.2" fill="none"/>
<path d="M508.68 345.2V351.54" stroke="#9a9a9a" stroke-width="1.1" fill="none"/>
<path d="M505.78 345.2H511.57M505.78 351.54H511.57" stroke="#707070" stroke-width="1.2" fill="none"/>
<path d="M540.45 352.17V364.21" stroke="#9a9a9a" stroke-width="1.1" fill="none"/>
<path d="M537.55 352.17H543.35M537.55 364.21H543.35" stroke="#707070" stroke-width="1.2" fill="none"/>
<path d="M572.23 371.66V384.33" stroke="#9a9a9a" stroke-width="1.1" fill="none"/>
<path d="M569.33 371.66H575.12M569.33 384.33H575.12" stroke="#707070" stroke-width="1.2" fill="none"/>
<path d="M381.57 348.37V357.88" stroke="#9a9a9a" stroke-width="1.1" fill="none"/>
<path d="M378.68 348.37H384.47M378.68 357.88H384.47" stroke="#707070" stroke-width="1.2" fill="none"/>
<path d="M413.35 315.1V326.83" stroke="#9a9a9a" stroke-width="1.1" fill="none"/>
<path d="M410.45 315.1H416.25M410.45 326.83H416.25" stroke="#707070" stroke-width="1.2" fill="none"/>
<path d="M445.12 287.7V298.15" stroke="#9a9a9a" stroke-width="1.1" fill="none"/>
<path d="M442.23 287.7H448.02M442.23 298.15H448.02" stroke="#707070" stroke-width="1.2" fill="none"/>
<path d="M476.9 313.2V327.78" stroke="#9a9a9a" stroke-width="1.1" fill="none"/>
<path d="M474 313.2H479.8M474 327.78H479.8" stroke="#707070" stroke-width="1.2" fill="none"/>
<path d="M508.68 331.74V340.93" stroke="#9a9a9a" stroke-width="1.1" fill="none"/>
<path d="M505.78 331.74H511.57M505.78 340.93H511.57" stroke="#707070" stroke-width="1.2" fill="none"/>
<path d="M540.45 339.03V348.21" stroke="#9a9a9a" stroke-width="1.1" fill="none"/>
<path d="M537.55 339.03H543.35M537.55 348.21H543.35" stroke="#707070" stroke-width="1.2" fill="none"/>
<path d="M572.23 365.01V378.95" stroke="#9a9a9a" stroke-width="1.1" fill="none"/>
<path d="M569.33 365.01H575.12M569.33 378.95H575.12" stroke="#707070" stroke-width="1.2" fill="none"/>
<polyline points="381.57,376.09 413.35,358.19 445.12,331.58 476.9,350.27 508.68,365.48 540.45,373.24 572.23,388.93" fill="none" stroke="#22e822" stroke-width="2.4" stroke-linejoin="round"/>
<path d="M377.38 373.34H385.77L381.57 379.54Z" fill="#22e822" stroke="#1a1a1a" stroke-width="0.8"/>
<path d="M409.15 355.44H417.55L413.35 361.64Z" fill="#22e822" stroke="#1a1a1a" stroke-width="0.8"/>
<path d="M440.93 328.83H449.32L445.12 335.03Z" fill="#22e822" stroke="#1a1a1a" stroke-width="0.8"/>
<path d="M472.7 347.52H481.1L476.9 353.72Z" fill="#22e822" stroke="#1a1a1a" stroke-width="0.8"/>
<path d="M504.48 362.73H512.88L508.68 368.93Z" fill="#22e822" stroke="#1a1a1a" stroke-width="0.8"/>
<path d="M536.25 370.49H544.65L540.45 376.69Z" fill="#22e822" stroke="#1a1a1a" stroke-width="0.8"/>
<path d="M568.02 386.18H576.43L572.23 392.38Z" fill="#22e822" stroke="#1a1a1a" stroke-width="0.8"/>
<polyline points="381.57,358.83 413.35,336.81 445.12,315.9 476.9,336.17 508.68,348.37 540.45,358.19 572.23,378" fill="none" stroke="#000" stroke-width="2.4" stroke-linejoin="round"/>
<circle cx="381.57" cy="358.83" r="3.9" fill="#000" stroke="#111" stroke-width="0.8"/>
<circle cx="413.35" cy="336.81" r="3.9" fill="#000" stroke="#111" stroke-width="0.8"/>
<circle cx="445.12" cy="315.9" r="3.9" fill="#000" stroke="#111" stroke-width="0.8"/>
<circle cx="476.9" cy="336.17" r="3.9" fill="#000" stroke="#111" stroke-width="0.8"/>
<circle cx="508.68" cy="348.37" r="3.9" fill="#000" stroke="#111" stroke-width="0.8"/>
<circle cx="540.45" cy="358.19" r="3.9" fill="#000" stroke="#111" stroke-width="0.8"/>
<circle cx="572.23" cy="378" r="3.9" fill="#000" stroke="#111" stroke-width="0.8"/>
<polyline points="381.57,353.12 413.35,320.97 445.12,292.93 476.9,320.49 508.68,336.33 540.45,343.62 572.23,371.98" fill="none" stroke="#e80c0c" stroke-width="2.4" stroke-linejoin="round"/>
<circle cx="381.57" cy="353.12" r="3.9" fill="#e80c0c" stroke="#5a0000" stroke-width="0.8"/>
<circle cx="413.35" cy="320.97" r="3.9" fill="#e80c0c" stroke="#5a0000" stroke-width="0.8"/>
<circle cx="445.12" cy="292.93" r="3.9" fill="#e80c0c" stroke="#5a0000" stroke-width="0.8"/>
<circle cx="476.9" cy="320.49" r="3.9" fill="#e80c0c" stroke="#5a0000" stroke-width="0.8"/>
<circle cx="508.68" cy="336.33" r="3.9" fill="#e80c0c" stroke="#5a0000" stroke-width="0.8"/>
<circle cx="540.45" cy="343.62" r="3.9" fill="#e80c0c" stroke="#5a0000" stroke-width="0.8"/>
<circle cx="572.23" cy="371.98" r="3.9" fill="#e80c0c" stroke="#5a0000" stroke-width="0.8"/>
<text transform="translate(366.5 249) scale(1 1.0)" class="lb">(d)</text>
<rect x="80.2" y="488.7" width="253.6" height="190.3" fill="none" stroke="#8c8c8c" stroke-width="1.35"/>
<line x1="111.9" y1="679" x2="111.9" y2="674" stroke="#8c8c8c" stroke-width="1"/>
<line x1="143.6" y1="679" x2="143.6" y2="674" stroke="#8c8c8c" stroke-width="1"/>
<line x1="175.3" y1="679" x2="175.3" y2="674" stroke="#8c8c8c" stroke-width="1"/>
<line x1="207" y1="679" x2="207" y2="674" stroke="#8c8c8c" stroke-width="1"/>
<line x1="238.7" y1="679" x2="238.7" y2="674" stroke="#8c8c8c" stroke-width="1"/>
<line x1="270.4" y1="679" x2="270.4" y2="674" stroke="#8c8c8c" stroke-width="1"/>
<line x1="302.1" y1="679" x2="302.1" y2="674" stroke="#8c8c8c" stroke-width="1"/>
<line x1="80.2" y1="647.28" x2="85.2" y2="647.28" stroke="#8c8c8c" stroke-width="1"/>
<line x1="80.2" y1="615.57" x2="85.2" y2="615.57" stroke="#8c8c8c" stroke-width="1"/>
<line x1="80.2" y1="583.85" x2="85.2" y2="583.85" stroke="#8c8c8c" stroke-width="1"/>
<line x1="80.2" y1="552.13" x2="85.2" y2="552.13" stroke="#8c8c8c" stroke-width="1"/>
<line x1="80.2" y1="520.42" x2="85.2" y2="520.42" stroke="#8c8c8c" stroke-width="1"/>
<text transform="translate(73.2 679) scale(1 1.08)" y="4.3" text-anchor="end" class="tk">0</text>
<text transform="translate(73.2 647.28) scale(1 1.08)" y="4.3" text-anchor="end" class="tk">20</text>
<text transform="translate(73.2 615.57) scale(1 1.08)" y="4.3" text-anchor="end" class="tk">40</text>
<text transform="translate(73.2 583.85) scale(1 1.08)" y="4.3" text-anchor="end" class="tk">60</text>
<text transform="translate(73.2 552.13) scale(1 1.08)" y="4.3" text-anchor="end" class="tk">80</text>
<text transform="translate(73.2 520.42) scale(1 1.08)" y="4.3" text-anchor="end" class="tk">100</text>
<text transform="translate(73.2 488.7) scale(1 1.08)" y="4.3" text-anchor="end" class="tk">120</text>
<path d="M111.9 653.63V660.29" stroke="#9a9a9a" stroke-width="1.1" fill="none"/>
<path d="M109 653.63H114.8M109 660.29H114.8" stroke="#707070" stroke-width="1.2" fill="none"/>
<path d="M143.6 633.01V637.77" stroke="#9a9a9a" stroke-width="1.1" fill="none"/>
<path d="M140.7 633.01H146.5M140.7 637.77H146.5" stroke="#707070" stroke-width="1.2" fill="none"/>
<path d="M175.3 622.86V637.77" stroke="#9a9a9a" stroke-width="1.1" fill="none"/>
<path d="M172.4 622.86H178.2M172.4 637.77H178.2" stroke="#707070" stroke-width="1.2" fill="none"/>
<path d="M207 592.41V608.91" stroke="#9a9a9a" stroke-width="1.1" fill="none"/>
<path d="M204.1 592.41H209.9M204.1 608.91H209.9" stroke="#707070" stroke-width="1.2" fill="none"/>
<path d="M238.7 603.51V616.2" stroke="#9a9a9a" stroke-width="1.1" fill="none"/>
<path d="M235.8 603.51H241.6M235.8 616.2H241.6" stroke="#707070" stroke-width="1.2" fill="none"/>
<path d="M270.4 641.89V651.72" stroke="#9a9a9a" stroke-width="1.1" fill="none"/>
<path d="M267.5 641.89H273.3M267.5 651.72H273.3" stroke="#707070" stroke-width="1.2" fill="none"/>
<path d="M302.1 657.91V664.25" stroke="#9a9a9a" stroke-width="1.1" fill="none"/>
<path d="M299.2 657.91H305M299.2 664.25H305" stroke="#707070" stroke-width="1.2" fill="none"/>
<path d="M111.9 619.37V624.13" stroke="#9a9a9a" stroke-width="1.1" fill="none"/>
<path d="M109 619.37H114.8M109 624.13H114.8" stroke="#707070" stroke-width="1.2" fill="none"/>
<path d="M143.6 611.76V618.1" stroke="#9a9a9a" stroke-width="1.1" fill="none"/>
<path d="M140.7 611.76H146.5M140.7 618.1H146.5" stroke="#707070" stroke-width="1.2" fill="none"/>
<path d="M175.3 571V583.06" stroke="#9a9a9a" stroke-width="1.1" fill="none"/>
<path d="M172.4 571H178.2M172.4 583.06H178.2" stroke="#707070" stroke-width="1.2" fill="none"/>
<path d="M207 555.94V569.58" stroke="#9a9a9a" stroke-width="1.1" fill="none"/>
<path d="M204.1 555.94H209.9M204.1 569.58H209.9" stroke="#707070" stroke-width="1.2" fill="none"/>
<path d="M238.7 573.54V582.74" stroke="#9a9a9a" stroke-width="1.1" fill="none"/>
<path d="M235.8 573.54H241.6M235.8 582.74H241.6" stroke="#707070" stroke-width="1.2" fill="none"/>
<path d="M270.4 608.91V615.25" stroke="#9a9a9a" stroke-width="1.1" fill="none"/>
<path d="M267.5 608.91H273.3M267.5 615.25H273.3" stroke="#707070" stroke-width="1.2" fill="none"/>
<path d="M302.1 650.77V657.12" stroke="#9a9a9a" stroke-width="1.1" fill="none"/>
<path d="M299.2 650.77H305M299.2 657.12H305" stroke="#707070" stroke-width="1.2" fill="none"/>
<path d="M111.9 592.1V603.83" stroke="#9a9a9a" stroke-width="1.1" fill="none"/>
<path d="M109 592.1H114.8M109 603.83H114.8" stroke="#707070" stroke-width="1.2" fill="none"/>
<path d="M143.6 554.51V564.66" stroke="#9a9a9a" stroke-width="1.1" fill="none"/>
<path d="M140.7 554.51H146.5M140.7 564.66H146.5" stroke="#707070" stroke-width="1.2" fill="none"/>
<path d="M175.3 532.94V552.61" stroke="#9a9a9a" stroke-width="1.1" fill="none"/>
<path d="M172.4 532.94H178.2M172.4 552.61H178.2" stroke="#707070" stroke-width="1.2" fill="none"/>
<path d="M207 523.59V539.76" stroke="#9a9a9a" stroke-width="1.1" fill="none"/>
<path d="M204.1 523.59H209.9M204.1 539.76H209.9" stroke="#707070" stroke-width="1.2" fill="none"/>
<path d="M238.7 538.02V551.66" stroke="#9a9a9a" stroke-width="1.1" fill="none"/>
<path d="M235.8 538.02H241.6M235.8 551.66H241.6" stroke="#707070" stroke-width="1.2" fill="none"/>
<path d="M270.4 571.96V582.42" stroke="#9a9a9a" stroke-width="1.1" fill="none"/>
<path d="M267.5 571.96H273.3M267.5 582.42H273.3" stroke="#707070" stroke-width="1.2" fill="none"/>
<path d="M302.1 641.1V647.44" stroke="#9a9a9a" stroke-width="1.1" fill="none"/>
<path d="M299.2 641.1H305M299.2 647.44H305" stroke="#707070" stroke-width="1.2" fill="none"/>
<polyline points="111.9,656.96 143.6,635.39 175.3,630.31 207,600.66 238.7,609.86 270.4,646.81 302.1,661.08" fill="none" stroke="#22e822" stroke-width="2.4" stroke-linejoin="round"/>
<path d="M107.7 654.21H116.1L111.9 660.41Z" fill="#22e822" stroke="#1a1a1a" stroke-width="0.8"/>
<path d="M139.4 632.64H147.8L143.6 638.84Z" fill="#22e822" stroke="#1a1a1a" stroke-width="0.8"/>
<path d="M171.1 627.56H179.5L175.3 633.76Z" fill="#22e822" stroke="#1a1a1a" stroke-width="0.8"/>
<path d="M202.8 597.91H211.2L207 604.11Z" fill="#22e822" stroke="#1a1a1a" stroke-width="0.8"/>
<path d="M234.5 607.11H242.9L238.7 613.31Z" fill="#22e822" stroke="#1a1a1a" stroke-width="0.8"/>
<path d="M266.2 644.06H274.6L270.4 650.26Z" fill="#22e822" stroke="#1a1a1a" stroke-width="0.8"/>
<path d="M297.9 658.33H306.3L302.1 664.53Z" fill="#22e822" stroke="#1a1a1a" stroke-width="0.8"/>
<polyline points="111.9,621.75 143.6,614.93 175.3,577.03 207,562.76 238.7,578.14 270.4,612.08 302.1,653.94" fill="none" stroke="#000" stroke-width="2.4" stroke-linejoin="round"/>
<circle cx="111.9" cy="621.75" r="3.9" fill="#000" stroke="#111" stroke-width="0.8"/>
<circle cx="143.6" cy="614.93" r="3.9" fill="#000" stroke="#111" stroke-width="0.8"/>
<circle cx="175.3" cy="577.03" r="3.9" fill="#000" stroke="#111" stroke-width="0.8"/>
<circle cx="207" cy="562.76" r="3.9" fill="#000" stroke="#111" stroke-width="0.8"/>
<circle cx="238.7" cy="578.14" r="3.9" fill="#000" stroke="#111" stroke-width="0.8"/>
<circle cx="270.4" cy="612.08" r="3.9" fill="#000" stroke="#111" stroke-width="0.8"/>
<circle cx="302.1" cy="653.94" r="3.9" fill="#000" stroke="#111" stroke-width="0.8"/>
<polyline points="111.9,597.96 143.6,559.59 175.3,542.78 207,531.68 238.7,544.84 270.4,577.19 302.1,644.27" fill="none" stroke="#e80c0c" stroke-width="2.4" stroke-linejoin="round"/>
<circle cx="111.9" cy="597.96" r="3.9" fill="#e80c0c" stroke="#5a0000" stroke-width="0.8"/>
<circle cx="143.6" cy="559.59" r="3.9" fill="#e80c0c" stroke="#5a0000" stroke-width="0.8"/>
<circle cx="175.3" cy="542.78" r="3.9" fill="#e80c0c" stroke="#5a0000" stroke-width="0.8"/>
<circle cx="207" cy="531.68" r="3.9" fill="#e80c0c" stroke="#5a0000" stroke-width="0.8"/>
<circle cx="238.7" cy="544.84" r="3.9" fill="#e80c0c" stroke="#5a0000" stroke-width="0.8"/>
<circle cx="270.4" cy="577.19" r="3.9" fill="#e80c0c" stroke="#5a0000" stroke-width="0.8"/>
<circle cx="302.1" cy="644.27" r="3.9" fill="#e80c0c" stroke="#5a0000" stroke-width="0.8"/>
<text transform="translate(91.4 511.9) scale(1 1.0)" class="lb">(e)</text>
<rect x="350.2" y="488.8" width="253.8" height="190.1" fill="none" stroke="#8c8c8c" stroke-width="1.35"/>
<line x1="381.93" y1="678.9" x2="381.93" y2="673.9" stroke="#8c8c8c" stroke-width="1"/>
<line x1="413.65" y1="678.9" x2="413.65" y2="673.9" stroke="#8c8c8c" stroke-width="1"/>
<line x1="445.38" y1="678.9" x2="445.38" y2="673.9" stroke="#8c8c8c" stroke-width="1"/>
<line x1="477.1" y1="678.9" x2="477.1" y2="673.9" stroke="#8c8c8c" stroke-width="1"/>
<line x1="508.82" y1="678.9" x2="508.82" y2="673.9" stroke="#8c8c8c" stroke-width="1"/>
<line x1="540.55" y1="678.9" x2="540.55" y2="673.9" stroke="#8c8c8c" stroke-width="1"/>
<line x1="572.27" y1="678.9" x2="572.27" y2="673.9" stroke="#8c8c8c" stroke-width="1"/>
<line x1="604" y1="647.22" x2="599" y2="647.22" stroke="#8c8c8c" stroke-width="1"/>
<line x1="604" y1="615.53" x2="599" y2="615.53" stroke="#8c8c8c" stroke-width="1"/>
<line x1="604" y1="583.85" x2="599" y2="583.85" stroke="#8c8c8c" stroke-width="1"/>
<line x1="604" y1="552.17" x2="599" y2="552.17" stroke="#8c8c8c" stroke-width="1"/>
<line x1="604" y1="520.48" x2="599" y2="520.48" stroke="#8c8c8c" stroke-width="1"/>
<text transform="translate(610.5 678.9) scale(1 1.08)" y="4.3" text-anchor="start" class="tk">0</text>
<text transform="translate(610.5 647.22) scale(1 1.08)" y="4.3" text-anchor="start" class="tk">20</text>
<text transform="translate(610.5 615.53) scale(1 1.08)" y="4.3" text-anchor="start" class="tk">40</text>
<text transform="translate(610.5 583.85) scale(1 1.08)" y="4.3" text-anchor="start" class="tk">60</text>
<text transform="translate(610.5 552.17) scale(1 1.08)" y="4.3" text-anchor="start" class="tk">80</text>
<text transform="translate(610.5 520.48) scale(1 1.08)" y="4.3" text-anchor="start" class="tk">100</text>
<text transform="translate(610.5 488.8) scale(1 1.08)" y="4.3" text-anchor="start" class="tk">120</text>
<path d="M381.93 662.74V667.49" stroke="#9a9a9a" stroke-width="1.1" fill="none"/>
<path d="M379.03 662.74H384.82M379.03 667.49H384.82" stroke="#707070" stroke-width="1.2" fill="none"/>
<path d="M413.65 650.7V660.21" stroke="#9a9a9a" stroke-width="1.1" fill="none"/>
<path d="M410.75 650.7H416.55M410.75 660.21H416.55" stroke="#707070" stroke-width="1.2" fill="none"/>
<path d="M445.38 620.6V631.06" stroke="#9a9a9a" stroke-width="1.1" fill="none"/>
<path d="M442.48 620.6H448.27M442.48 631.06H448.27" stroke="#707070" stroke-width="1.2" fill="none"/>
<path d="M477.1 603.81V618.07" stroke="#9a9a9a" stroke-width="1.1" fill="none"/>
<path d="M474.2 603.81H480M474.2 618.07H480" stroke="#707070" stroke-width="1.2" fill="none"/>
<path d="M508.82 633.43V645.79" stroke="#9a9a9a" stroke-width="1.1" fill="none"/>
<path d="M505.93 633.43H511.72M505.93 645.79H511.72" stroke="#707070" stroke-width="1.2" fill="none"/>
<path d="M540.55 637.39V645.95" stroke="#9a9a9a" stroke-width="1.1" fill="none"/>
<path d="M537.65 637.39H543.45M537.65 645.95H543.45" stroke="#707070" stroke-width="1.2" fill="none"/>
<path d="M572.27 651.81V659.41" stroke="#9a9a9a" stroke-width="1.1" fill="none"/>
<path d="M569.38 651.81H575.17M569.38 659.41H575.17" stroke="#707070" stroke-width="1.2" fill="none"/>
<path d="M381.93 627.57V640.56" stroke="#9a9a9a" stroke-width="1.1" fill="none"/>
<path d="M379.03 627.57H384.82M379.03 640.56H384.82" stroke="#707070" stroke-width="1.2" fill="none"/>
<path d="M413.65 624.09V633.28" stroke="#9a9a9a" stroke-width="1.1" fill="none"/>
<path d="M410.75 624.09H416.55M410.75 633.28H416.55" stroke="#707070" stroke-width="1.2" fill="none"/>
<path d="M445.38 580.21V593.51" stroke="#9a9a9a" stroke-width="1.1" fill="none"/>
<path d="M442.48 580.21H448.27M442.48 593.51H448.27" stroke="#707070" stroke-width="1.2" fill="none"/>
<path d="M477.1 561.67V577.51" stroke="#9a9a9a" stroke-width="1.1" fill="none"/>
<path d="M474.2 561.67H480M474.2 577.51H480" stroke="#707070" stroke-width="1.2" fill="none"/>
<path d="M508.82 600.64V613.95" stroke="#9a9a9a" stroke-width="1.1" fill="none"/>
<path d="M505.93 600.64H511.72M505.93 613.95H511.72" stroke="#707070" stroke-width="1.2" fill="none"/>
<path d="M540.55 607.93V619.02" stroke="#9a9a9a" stroke-width="1.1" fill="none"/>
<path d="M537.65 607.93H543.45M537.65 619.02H543.45" stroke="#707070" stroke-width="1.2" fill="none"/>
<path d="M572.27 633.75V641.67" stroke="#9a9a9a" stroke-width="1.1" fill="none"/>
<path d="M569.38 633.75H575.17M569.38 641.67H575.17" stroke="#707070" stroke-width="1.2" fill="none"/>
<path d="M381.93 598.27V610.62" stroke="#9a9a9a" stroke-width="1.1" fill="none"/>
<path d="M379.03 598.27H384.82M379.03 610.62H384.82" stroke="#707070" stroke-width="1.2" fill="none"/>
<path d="M413.65 576.25V587.02" stroke="#9a9a9a" stroke-width="1.1" fill="none"/>
<path d="M410.75 576.25H416.55M410.75 587.02H416.55" stroke="#707070" stroke-width="1.2" fill="none"/>
<path d="M445.38 536.8V552.01" stroke="#9a9a9a" stroke-width="1.1" fill="none"/>
<path d="M442.48 536.8H448.27M442.48 552.01H448.27" stroke="#707070" stroke-width="1.2" fill="none"/>
<path d="M477.1 523.81V542.5" stroke="#9a9a9a" stroke-width="1.1" fill="none"/>
<path d="M474.2 523.81H480M474.2 542.5H480" stroke="#707070" stroke-width="1.2" fill="none"/>
<path d="M508.82 555.81V573.24" stroke="#9a9a9a" stroke-width="1.1" fill="none"/>
<path d="M505.93 555.81H511.72M505.93 573.24H511.72" stroke="#707070" stroke-width="1.2" fill="none"/>
<path d="M540.55 574.82V585.91" stroke="#9a9a9a" stroke-width="1.1" fill="none"/>
<path d="M537.65 574.82H543.45M537.65 585.91H543.45" stroke="#707070" stroke-width="1.2" fill="none"/>
<path d="M572.27 608.56V622.82" stroke="#9a9a9a" stroke-width="1.1" fill="none"/>
<path d="M569.38 608.56H575.17M569.38 622.82H575.17" stroke="#707070" stroke-width="1.2" fill="none"/>
<polyline points="381.93,665.12 413.65,655.45 445.38,625.83 477.1,610.94 508.82,639.61 540.55,641.67 572.27,655.61" fill="none" stroke="#22e822" stroke-width="2.4" stroke-linejoin="round"/>
<path d="M377.73 662.37H386.12L381.93 668.57Z" fill="#22e822" stroke="#1a1a1a" stroke-width="0.8"/>
<path d="M409.45 652.7H417.85L413.65 658.9Z" fill="#22e822" stroke="#1a1a1a" stroke-width="0.8"/>
<path d="M441.18 623.08H449.57L445.38 629.28Z" fill="#22e822" stroke="#1a1a1a" stroke-width="0.8"/>
<path d="M472.9 608.19H481.3L477.1 614.39Z" fill="#22e822" stroke="#1a1a1a" stroke-width="0.8"/>
<path d="M504.62 636.86H513.02L508.82 643.06Z" fill="#22e822" stroke="#1a1a1a" stroke-width="0.8"/>
<path d="M536.35 638.92H544.75L540.55 645.12Z" fill="#22e822" stroke="#1a1a1a" stroke-width="0.8"/>
<path d="M568.07 652.86H576.48L572.27 659.06Z" fill="#22e822" stroke="#1a1a1a" stroke-width="0.8"/>
<polyline points="381.93,634.07 413.65,628.68 445.38,586.86 477.1,569.59 508.82,607.3 540.55,613.47 572.27,637.71" fill="none" stroke="#000" stroke-width="2.4" stroke-linejoin="round"/>
<circle cx="381.93" cy="634.07" r="3.9" fill="#000" stroke="#111" stroke-width="0.8"/>
<circle cx="413.65" cy="628.68" r="3.9" fill="#000" stroke="#111" stroke-width="0.8"/>
<circle cx="445.38" cy="586.86" r="3.9" fill="#000" stroke="#111" stroke-width="0.8"/>
<circle cx="477.1" cy="569.59" r="3.9" fill="#000" stroke="#111" stroke-width="0.8"/>
<circle cx="508.82" cy="607.3" r="3.9" fill="#000" stroke="#111" stroke-width="0.8"/>
<circle cx="540.55" cy="613.47" r="3.9" fill="#000" stroke="#111" stroke-width="0.8"/>
<circle cx="572.27" cy="637.71" r="3.9" fill="#000" stroke="#111" stroke-width="0.8"/>
<polyline points="381.93,604.44 413.65,581.63 445.38,544.4 477.1,533.16 508.82,564.52 540.55,580.36 572.27,615.69" fill="none" stroke="#e80c0c" stroke-width="2.4" stroke-linejoin="round"/>
<circle cx="381.93" cy="604.44" r="3.9" fill="#e80c0c" stroke="#5a0000" stroke-width="0.8"/>
<circle cx="413.65" cy="581.63" r="3.9" fill="#e80c0c" stroke="#5a0000" stroke-width="0.8"/>
<circle cx="445.38" cy="544.4" r="3.9" fill="#e80c0c" stroke="#5a0000" stroke-width="0.8"/>
<circle cx="477.1" cy="533.16" r="3.9" fill="#e80c0c" stroke="#5a0000" stroke-width="0.8"/>
<circle cx="508.82" cy="564.52" r="3.9" fill="#e80c0c" stroke="#5a0000" stroke-width="0.8"/>
<circle cx="540.55" cy="580.36" r="3.9" fill="#e80c0c" stroke="#5a0000" stroke-width="0.8"/>
<circle cx="572.27" cy="615.69" r="3.9" fill="#e80c0c" stroke="#5a0000" stroke-width="0.8"/>
<text transform="translate(365.2 511) scale(1 1.0)" class="lb">(f)</text>
<rect x="80.3" y="709.8" width="253.6" height="189.9" fill="none" stroke="#8c8c8c" stroke-width="1.35"/>
<line x1="112" y1="899.7" x2="112" y2="894.7" stroke="#8c8c8c" stroke-width="1"/>
<line x1="143.7" y1="899.7" x2="143.7" y2="894.7" stroke="#8c8c8c" stroke-width="1"/>
<line x1="175.4" y1="899.7" x2="175.4" y2="894.7" stroke="#8c8c8c" stroke-width="1"/>
<line x1="207.1" y1="899.7" x2="207.1" y2="894.7" stroke="#8c8c8c" stroke-width="1"/>
<line x1="238.8" y1="899.7" x2="238.8" y2="894.7" stroke="#8c8c8c" stroke-width="1"/>
<line x1="270.5" y1="899.7" x2="270.5" y2="894.7" stroke="#8c8c8c" stroke-width="1"/>
<line x1="302.2" y1="899.7" x2="302.2" y2="894.7" stroke="#8c8c8c" stroke-width="1"/>
<line x1="80.3" y1="868.05" x2="85.3" y2="868.05" stroke="#8c8c8c" stroke-width="1"/>
<line x1="80.3" y1="836.4" x2="85.3" y2="836.4" stroke="#8c8c8c" stroke-width="1"/>
<line x1="80.3" y1="804.75" x2="85.3" y2="804.75" stroke="#8c8c8c" stroke-width="1"/>
<line x1="80.3" y1="773.1" x2="85.3" y2="773.1" stroke="#8c8c8c" stroke-width="1"/>
<line x1="80.3" y1="741.45" x2="85.3" y2="741.45" stroke="#8c8c8c" stroke-width="1"/>
<text transform="translate(74.1 899.7) scale(1 1.08)" y="4.3" text-anchor="end" class="tk">0</text>
<text transform="translate(74.1 868.05) scale(1 1.08)" y="4.3" text-anchor="end" class="tk">20</text>
<text transform="translate(74.1 836.4) scale(1 1.08)" y="4.3" text-anchor="end" class="tk">40</text>
<text transform="translate(74.1 804.75) scale(1 1.08)" y="4.3" text-anchor="end" class="tk">60</text>
<text transform="translate(74.1 773.1) scale(1 1.08)" y="4.3" text-anchor="end" class="tk">80</text>
<text transform="translate(74.1 741.45) scale(1 1.08)" y="4.3" text-anchor="end" class="tk">100</text>
<text transform="translate(74.1 709.8) scale(1 1.08)" y="4.3" text-anchor="end" class="tk">120</text>
<text transform="translate(80.3 913.3) scale(1 1.08)" y="4.3" text-anchor="middle" class="tk">0</text>
<text transform="translate(112 913.3) scale(1 1.08)" y="4.3" text-anchor="middle" class="tk">6</text>
<text transform="translate(143.7 913.3) scale(1 1.08)" y="4.3" text-anchor="middle" class="tk">12</text>
<text transform="translate(175.4 913.3) scale(1 1.08)" y="4.3" text-anchor="middle" class="tk">18</text>
<text transform="translate(207.1 913.3) scale(1 1.08)" y="4.3" text-anchor="middle" class="tk">24</text>
<text transform="translate(238.8 913.3) scale(1 1.08)" y="4.3" text-anchor="middle" class="tk">30</text>
<text transform="translate(270.5 913.3) scale(1 1.08)" y="4.3" text-anchor="middle" class="tk">36</text>
<text transform="translate(302.2 913.3) scale(1 1.08)" y="4.3" text-anchor="middle" class="tk">42</text>
<text transform="translate(333.9 913.3) scale(1 1.08)" y="4.3" text-anchor="middle" class="tk">48</text>
<text transform="translate(207.1 947.7) scale(1 1.06)" text-anchor="middle" class="xt">Days post-anthesis</text>
<path d="M112 853.65V861.56" stroke="#9a9a9a" stroke-width="1.1" fill="none"/>
<path d="M109.1 853.65H114.9M109.1 861.56H114.9" stroke="#707070" stroke-width="1.2" fill="none"/>
<path d="M143.7 827.38V833.71" stroke="#9a9a9a" stroke-width="1.1" fill="none"/>
<path d="M140.8 827.38H146.6M140.8 833.71H146.6" stroke="#707070" stroke-width="1.2" fill="none"/>
<path d="M175.4 807.28V814.88" stroke="#9a9a9a" stroke-width="1.1" fill="none"/>
<path d="M172.5 807.28H178.3M172.5 814.88H178.3" stroke="#707070" stroke-width="1.2" fill="none"/>
<path d="M207.1 815.83V824.37" stroke="#9a9a9a" stroke-width="1.1" fill="none"/>
<path d="M204.2 815.83H210M204.2 824.37H210" stroke="#707070" stroke-width="1.2" fill="none"/>
<path d="M238.8 824.69V834.18" stroke="#9a9a9a" stroke-width="1.1" fill="none"/>
<path d="M235.9 824.69H241.7M235.9 834.18H241.7" stroke="#707070" stroke-width="1.2" fill="none"/>
<path d="M270.5 852.23V856.97" stroke="#9a9a9a" stroke-width="1.1" fill="none"/>
<path d="M267.6 852.23H273.4M267.6 856.97H273.4" stroke="#707070" stroke-width="1.2" fill="none"/>
<path d="M302.2 863.46V868.21" stroke="#9a9a9a" stroke-width="1.1" fill="none"/>
<path d="M299.3 863.46H305.1M299.3 868.21H305.1" stroke="#707070" stroke-width="1.2" fill="none"/>
<path d="M112 844.31V856.34" stroke="#9a9a9a" stroke-width="1.1" fill="none"/>
<path d="M109.1 844.31H114.9M109.1 856.34H114.9" stroke="#707070" stroke-width="1.2" fill="none"/>
<path d="M143.7 808.55V819.31" stroke="#9a9a9a" stroke-width="1.1" fill="none"/>
<path d="M140.8 808.55H146.6M140.8 819.31H146.6" stroke="#707070" stroke-width="1.2" fill="none"/>
<path d="M175.4 783.39V796.68" stroke="#9a9a9a" stroke-width="1.1" fill="none"/>
<path d="M172.5 783.39H178.3M172.5 796.68H178.3" stroke="#707070" stroke-width="1.2" fill="none"/>
<path d="M207.1 798.1V809.81" stroke="#9a9a9a" stroke-width="1.1" fill="none"/>
<path d="M204.2 798.1H210M204.2 809.81H210" stroke="#707070" stroke-width="1.2" fill="none"/>
<path d="M238.8 804.59V814.4" stroke="#9a9a9a" stroke-width="1.1" fill="none"/>
<path d="M235.9 804.59H241.7M235.9 814.4H241.7" stroke="#707070" stroke-width="1.2" fill="none"/>
<path d="M270.5 832.13V845.1" stroke="#9a9a9a" stroke-width="1.1" fill="none"/>
<path d="M267.6 832.13H273.4M267.6 845.1H273.4" stroke="#707070" stroke-width="1.2" fill="none"/>
<path d="M302.2 853.65V863.78" stroke="#9a9a9a" stroke-width="1.1" fill="none"/>
<path d="M299.3 853.65H305.1M299.3 863.78H305.1" stroke="#707070" stroke-width="1.2" fill="none"/>
<path d="M112 828.17V837.67" stroke="#9a9a9a" stroke-width="1.1" fill="none"/>
<path d="M109.1 828.17H114.9M109.1 837.67H114.9" stroke="#707070" stroke-width="1.2" fill="none"/>
<path d="M143.7 793.51V806.17" stroke="#9a9a9a" stroke-width="1.1" fill="none"/>
<path d="M140.8 793.51H146.6M140.8 806.17H146.6" stroke="#707070" stroke-width="1.2" fill="none"/>
<path d="M175.4 763.61V774.68" stroke="#9a9a9a" stroke-width="1.1" fill="none"/>
<path d="M172.5 763.61H178.3M172.5 774.68H178.3" stroke="#707070" stroke-width="1.2" fill="none"/>
<path d="M207.1 777.69V792.88" stroke="#9a9a9a" stroke-width="1.1" fill="none"/>
<path d="M204.2 777.69H210M204.2 792.88H210" stroke="#707070" stroke-width="1.2" fill="none"/>
<path d="M238.8 787.18V797.95" stroke="#9a9a9a" stroke-width="1.1" fill="none"/>
<path d="M235.9 787.18H241.7M235.9 797.95H241.7" stroke="#707070" stroke-width="1.2" fill="none"/>
<path d="M270.5 817.88V828.33" stroke="#9a9a9a" stroke-width="1.1" fill="none"/>
<path d="M267.6 817.88H273.4M267.6 828.33H273.4" stroke="#707070" stroke-width="1.2" fill="none"/>
<path d="M302.2 837.98V853.49" stroke="#9a9a9a" stroke-width="1.1" fill="none"/>
<path d="M299.3 837.98H305.1M299.3 853.49H305.1" stroke="#707070" stroke-width="1.2" fill="none"/>
<polyline points="112,857.61 143.7,830.54 175.4,811.08 207.1,820.1 238.8,829.44 270.5,854.6 302.2,865.83" fill="none" stroke="#22e822" stroke-width="2.4" stroke-linejoin="round"/>
<path d="M107.8 854.86H116.2L112 861.06Z" fill="#22e822" stroke="#1a1a1a" stroke-width="0.8"/>
<path d="M139.5 827.79H147.9L143.7 833.99Z" fill="#22e822" stroke="#1a1a1a" stroke-width="0.8"/>
<path d="M171.2 808.33H179.6L175.4 814.53Z" fill="#22e822" stroke="#1a1a1a" stroke-width="0.8"/>
<path d="M202.9 817.35H211.3L207.1 823.55Z" fill="#22e822" stroke="#1a1a1a" stroke-width="0.8"/>
<path d="M234.6 826.69H243L238.8 832.89Z" fill="#22e822" stroke="#1a1a1a" stroke-width="0.8"/>
<path d="M266.3 851.85H274.7L270.5 858.05Z" fill="#22e822" stroke="#1a1a1a" stroke-width="0.8"/>
<path d="M298 863.08H306.4L302.2 869.28Z" fill="#22e822" stroke="#1a1a1a" stroke-width="0.8"/>
<polyline points="112,850.33 143.7,813.93 175.4,790.03 207.1,803.96 238.8,809.5 270.5,838.62 302.2,858.71" fill="none" stroke="#000" stroke-width="2.4" stroke-linejoin="round"/>
<circle cx="112" cy="850.33" r="3.9" fill="#000" stroke="#111" stroke-width="0.8"/>
<circle cx="143.7" cy="813.93" r="3.9" fill="#000" stroke="#111" stroke-width="0.8"/>
<circle cx="175.4" cy="790.03" r="3.9" fill="#000" stroke="#111" stroke-width="0.8"/>
<circle cx="207.1" cy="803.96" r="3.9" fill="#000" stroke="#111" stroke-width="0.8"/>
<circle cx="238.8" cy="809.5" r="3.9" fill="#000" stroke="#111" stroke-width="0.8"/>
<circle cx="270.5" cy="838.62" r="3.9" fill="#000" stroke="#111" stroke-width="0.8"/>
<circle cx="302.2" cy="858.71" r="3.9" fill="#000" stroke="#111" stroke-width="0.8"/>
<polyline points="112,832.92 143.7,799.84 175.4,769.14 207.1,785.29 238.8,792.56 270.5,823.11 302.2,845.74" fill="none" stroke="#e80c0c" stroke-width="2.4" stroke-linejoin="round"/>
<circle cx="112" cy="832.92" r="3.9" fill="#e80c0c" stroke="#5a0000" stroke-width="0.8"/>
<circle cx="143.7" cy="799.84" r="3.9" fill="#e80c0c" stroke="#5a0000" stroke-width="0.8"/>
<circle cx="175.4" cy="769.14" r="3.9" fill="#e80c0c" stroke="#5a0000" stroke-width="0.8"/>
<circle cx="207.1" cy="785.29" r="3.9" fill="#e80c0c" stroke="#5a0000" stroke-width="0.8"/>
<circle cx="238.8" cy="792.56" r="3.9" fill="#e80c0c" stroke="#5a0000" stroke-width="0.8"/>
<circle cx="270.5" cy="823.11" r="3.9" fill="#e80c0c" stroke="#5a0000" stroke-width="0.8"/>
<circle cx="302.2" cy="845.74" r="3.9" fill="#e80c0c" stroke="#5a0000" stroke-width="0.8"/>
<text transform="translate(92.8 729.1) scale(1 1.0)" class="lb">(g)</text>
<rect x="351.1" y="710" width="253.9" height="189.3" fill="none" stroke="#8c8c8c" stroke-width="1.35"/>
<line x1="382.84" y1="899.3" x2="382.84" y2="894.3" stroke="#8c8c8c" stroke-width="1"/>
<line x1="414.58" y1="899.3" x2="414.58" y2="894.3" stroke="#8c8c8c" stroke-width="1"/>
<line x1="446.31" y1="899.3" x2="446.31" y2="894.3" stroke="#8c8c8c" stroke-width="1"/>
<line x1="478.05" y1="899.3" x2="478.05" y2="894.3" stroke="#8c8c8c" stroke-width="1"/>
<line x1="509.79" y1="899.3" x2="509.79" y2="894.3" stroke="#8c8c8c" stroke-width="1"/>
<line x1="541.52" y1="899.3" x2="541.52" y2="894.3" stroke="#8c8c8c" stroke-width="1"/>
<line x1="573.26" y1="899.3" x2="573.26" y2="894.3" stroke="#8c8c8c" stroke-width="1"/>
<line x1="605" y1="867.75" x2="600" y2="867.75" stroke="#8c8c8c" stroke-width="1"/>
<line x1="605" y1="836.2" x2="600" y2="836.2" stroke="#8c8c8c" stroke-width="1"/>
<line x1="605" y1="804.65" x2="600" y2="804.65" stroke="#8c8c8c" stroke-width="1"/>
<line x1="605" y1="773.1" x2="600" y2="773.1" stroke="#8c8c8c" stroke-width="1"/>
<line x1="605" y1="741.55" x2="600" y2="741.55" stroke="#8c8c8c" stroke-width="1"/>
<text transform="translate(611.5 899.3) scale(1 1.08)" y="4.3" text-anchor="start" class="tk">0</text>
<text transform="translate(611.5 867.75) scale(1 1.08)" y="4.3" text-anchor="start" class="tk">20</text>
<text transform="translate(611.5 836.2) scale(1 1.08)" y="4.3" text-anchor="start" class="tk">40</text>
<text transform="translate(611.5 804.65) scale(1 1.08)" y="4.3" text-anchor="start" class="tk">60</text>
<text transform="translate(611.5 773.1) scale(1 1.08)" y="4.3" text-anchor="start" class="tk">80</text>
<text transform="translate(611.5 741.55) scale(1 1.08)" y="4.3" text-anchor="start" class="tk">100</text>
<text transform="translate(611.5 710) scale(1 1.08)" y="4.3" text-anchor="start" class="tk">120</text>
<text transform="translate(351.1 912.9) scale(1 1.08)" y="4.3" text-anchor="middle" class="tk">0</text>
<text transform="translate(382.84 912.9) scale(1 1.08)" y="4.3" text-anchor="middle" class="tk">6</text>
<text transform="translate(414.58 912.9) scale(1 1.08)" y="4.3" text-anchor="middle" class="tk">12</text>
<text transform="translate(446.31 912.9) scale(1 1.08)" y="4.3" text-anchor="middle" class="tk">18</text>
<text transform="translate(478.05 912.9) scale(1 1.08)" y="4.3" text-anchor="middle" class="tk">24</text>
<text transform="translate(509.79 912.9) scale(1 1.08)" y="4.3" text-anchor="middle" class="tk">30</text>
<text transform="translate(541.52 912.9) scale(1 1.08)" y="4.3" text-anchor="middle" class="tk">36</text>
<text transform="translate(573.26 912.9) scale(1 1.08)" y="4.3" text-anchor="middle" class="tk">42</text>
<text transform="translate(605 912.9) scale(1 1.08)" y="4.3" text-anchor="middle" class="tk">48</text>
<text transform="translate(478.05 947.3) scale(1 1.06)" text-anchor="middle" class="xt">Days post-anthesis</text>
<path d="M382.84 841.09V845.82" stroke="#9a9a9a" stroke-width="1.1" fill="none"/>
<path d="M379.94 841.09H385.74M379.94 845.82H385.74" stroke="#707070" stroke-width="1.2" fill="none"/>
<path d="M414.58 834.62V839.36" stroke="#9a9a9a" stroke-width="1.1" fill="none"/>
<path d="M411.68 834.62H417.48M411.68 839.36H417.48" stroke="#707070" stroke-width="1.2" fill="none"/>
<path d="M446.31 794.4V803.55" stroke="#9a9a9a" stroke-width="1.1" fill="none"/>
<path d="M443.41 794.4H449.21M443.41 803.55H449.21" stroke="#707070" stroke-width="1.2" fill="none"/>
<path d="M478.05 821.06V830.84" stroke="#9a9a9a" stroke-width="1.1" fill="none"/>
<path d="M475.15 821.06H480.95M475.15 830.84H480.95" stroke="#707070" stroke-width="1.2" fill="none"/>
<path d="M509.79 853.87V862.7" stroke="#9a9a9a" stroke-width="1.1" fill="none"/>
<path d="M506.89 853.87H512.69M506.89 862.7H512.69" stroke="#707070" stroke-width="1.2" fill="none"/>
<path d="M541.52 856.71V866.49" stroke="#9a9a9a" stroke-width="1.1" fill="none"/>
<path d="M538.62 856.71H544.42M538.62 866.49H544.42" stroke="#707070" stroke-width="1.2" fill="none"/>
<path d="M573.26 863.02V870.27" stroke="#9a9a9a" stroke-width="1.1" fill="none"/>
<path d="M570.36 863.02H576.16M570.36 870.27H576.16" stroke="#707070" stroke-width="1.2" fill="none"/>
<path d="M382.84 830.52V835.25" stroke="#9a9a9a" stroke-width="1.1" fill="none"/>
<path d="M379.94 830.52H385.74M379.94 835.25H385.74" stroke="#707070" stroke-width="1.2" fill="none"/>
<path d="M414.58 811.43V816.17" stroke="#9a9a9a" stroke-width="1.1" fill="none"/>
<path d="M411.68 811.43H417.48M411.68 816.17H417.48" stroke="#707070" stroke-width="1.2" fill="none"/>
<path d="M446.31 772.15V785.4" stroke="#9a9a9a" stroke-width="1.1" fill="none"/>
<path d="M443.41 772.15H449.21M443.41 785.4H449.21" stroke="#707070" stroke-width="1.2" fill="none"/>
<path d="M478.05 801.65V806.39" stroke="#9a9a9a" stroke-width="1.1" fill="none"/>
<path d="M475.15 801.65H480.95M475.15 806.39H480.95" stroke="#707070" stroke-width="1.2" fill="none"/>
<path d="M509.79 840.14V844.88" stroke="#9a9a9a" stroke-width="1.1" fill="none"/>
<path d="M506.89 840.14H512.69M506.89 844.88H512.69" stroke="#707070" stroke-width="1.2" fill="none"/>
<path d="M541.52 841.72V846.45" stroke="#9a9a9a" stroke-width="1.1" fill="none"/>
<path d="M538.62 841.72H544.42M538.62 846.45H544.42" stroke="#707070" stroke-width="1.2" fill="none"/>
<path d="M573.26 850.87V855.6" stroke="#9a9a9a" stroke-width="1.1" fill="none"/>
<path d="M570.36 850.87H576.16M570.36 855.6H576.16" stroke="#707070" stroke-width="1.2" fill="none"/>
<path d="M382.84 810.49V818.37" stroke="#9a9a9a" stroke-width="1.1" fill="none"/>
<path d="M379.94 810.49H385.74M379.94 818.37H385.74" stroke="#707070" stroke-width="1.2" fill="none"/>
<path d="M414.58 801.65V806.39" stroke="#9a9a9a" stroke-width="1.1" fill="none"/>
<path d="M411.68 801.65H417.48M411.68 806.39H417.48" stroke="#707070" stroke-width="1.2" fill="none"/>
<path d="M446.31 759.69V769.16" stroke="#9a9a9a" stroke-width="1.1" fill="none"/>
<path d="M443.41 759.69H449.21M443.41 769.16H449.21" stroke="#707070" stroke-width="1.2" fill="none"/>
<path d="M478.05 768.21V784.93" stroke="#9a9a9a" stroke-width="1.1" fill="none"/>
<path d="M475.15 768.21H480.95M475.15 784.93H480.95" stroke="#707070" stroke-width="1.2" fill="none"/>
<path d="M509.79 823.11V829.42" stroke="#9a9a9a" stroke-width="1.1" fill="none"/>
<path d="M506.89 823.11H512.69M506.89 829.42H512.69" stroke="#707070" stroke-width="1.2" fill="none"/>
<path d="M541.52 824.53V838.09" stroke="#9a9a9a" stroke-width="1.1" fill="none"/>
<path d="M538.62 824.53H544.42M538.62 838.09H544.42" stroke="#707070" stroke-width="1.2" fill="none"/>
<path d="M573.26 837.62V842.35" stroke="#9a9a9a" stroke-width="1.1" fill="none"/>
<path d="M570.36 837.62H576.16M570.36 842.35H576.16" stroke="#707070" stroke-width="1.2" fill="none"/>
<polyline points="382.84,843.46 414.58,836.99 446.31,798.97 478.05,825.95 509.79,858.28 541.52,861.6 573.26,866.65" fill="none" stroke="#22e822" stroke-width="2.4" stroke-linejoin="round"/>
<path d="M378.64 840.71H387.04L382.84 846.91Z" fill="#22e822" stroke="#1a1a1a" stroke-width="0.8"/>
<path d="M410.38 834.24H418.78L414.58 840.44Z" fill="#22e822" stroke="#1a1a1a" stroke-width="0.8"/>
<path d="M442.11 796.22H450.51L446.31 802.42Z" fill="#22e822" stroke="#1a1a1a" stroke-width="0.8"/>
<path d="M473.85 823.2H482.25L478.05 829.4Z" fill="#22e822" stroke="#1a1a1a" stroke-width="0.8"/>
<path d="M505.59 855.53H513.99L509.79 861.74Z" fill="#22e822" stroke="#1a1a1a" stroke-width="0.8"/>
<path d="M537.32 858.85H545.73L541.52 865.05Z" fill="#22e822" stroke="#1a1a1a" stroke-width="0.8"/>
<path d="M569.06 863.9H577.46L573.26 870.1Z" fill="#22e822" stroke="#1a1a1a" stroke-width="0.8"/>
<polyline points="382.84,832.89 414.58,813.8 446.31,778.78 478.05,804.02 509.79,842.51 541.52,844.09 573.26,853.24" fill="none" stroke="#000" stroke-width="2.4" stroke-linejoin="round"/>
<circle cx="382.84" cy="832.89" r="3.9" fill="#000" stroke="#111" stroke-width="0.8"/>
<circle cx="414.58" cy="813.8" r="3.9" fill="#000" stroke="#111" stroke-width="0.8"/>
<circle cx="446.31" cy="778.78" r="3.9" fill="#000" stroke="#111" stroke-width="0.8"/>
<circle cx="478.05" cy="804.02" r="3.9" fill="#000" stroke="#111" stroke-width="0.8"/>
<circle cx="509.79" cy="842.51" r="3.9" fill="#000" stroke="#111" stroke-width="0.8"/>
<circle cx="541.52" cy="844.09" r="3.9" fill="#000" stroke="#111" stroke-width="0.8"/>
<circle cx="573.26" cy="853.24" r="3.9" fill="#000" stroke="#111" stroke-width="0.8"/>
<polyline points="382.84,814.43 414.58,804.02 446.31,764.42 478.05,776.57 509.79,826.26 541.52,831.31 573.26,839.99" fill="none" stroke="#e80c0c" stroke-width="2.4" stroke-linejoin="round"/>
<circle cx="382.84" cy="814.43" r="3.9" fill="#e80c0c" stroke="#5a0000" stroke-width="0.8"/>
<circle cx="414.58" cy="804.02" r="3.9" fill="#e80c0c" stroke="#5a0000" stroke-width="0.8"/>
<circle cx="446.31" cy="764.42" r="3.9" fill="#e80c0c" stroke="#5a0000" stroke-width="0.8"/>
<circle cx="478.05" cy="776.57" r="3.9" fill="#e80c0c" stroke="#5a0000" stroke-width="0.8"/>
<circle cx="509.79" cy="826.26" r="3.9" fill="#e80c0c" stroke="#5a0000" stroke-width="0.8"/>
<circle cx="541.52" cy="831.31" r="3.9" fill="#e80c0c" stroke="#5a0000" stroke-width="0.8"/>
<circle cx="573.26" cy="839.99" r="3.9" fill="#e80c0c" stroke="#5a0000" stroke-width="0.8"/>
<text transform="translate(368.7 733.9) scale(1 1.0)" class="lb">(h)</text>
<text transform="translate(194.55 27.6) scale(1 1.12)" text-anchor="middle" class="tt">Yangmai 16 - 2014</text>
<text transform="translate(472.3 29.8) scale(1 1.12)" text-anchor="middle" class="tt">Zhenmai 9 - 2014</text>
<text transform="translate(201.6 250.2) scale(1 1.12)" text-anchor="middle" class="tt">Yangmai 16 - 2014</text>
<text transform="translate(470 249.3) scale(1 1.12)" text-anchor="middle" class="tt">Zhenmai 9 - 2014</text>
<text transform="translate(191.2 513.1) scale(1 1.12)" text-anchor="middle" class="tt">Yangmai 16 - 2015</text>
<text transform="translate(466 510.8) scale(1 1.12)" text-anchor="middle" class="tt">Zhenmai 9 - 2015</text>
<text transform="translate(197.85 731.3) scale(1 1.12)" text-anchor="middle" class="tt">Yangmai 16 - 2015</text>
<text transform="translate(459 734.7) scale(1 1.12)" text-anchor="middle" class="tt">Zhenmai 9 - 2015</text>
<line x1="257.9" y1="28.2" x2="293.2" y2="28.2" stroke="#000" stroke-width="2.2"/>
<circle cx="275.5" cy="28.2" r="4" fill="#000" stroke="#111" stroke-width="0.8"/>
<text transform="translate(301.5 32.8) scale(1 1.06)" class="lg">WW</text>
<line x1="257.9" y1="47.1" x2="293.2" y2="47.1" stroke="#e80c0c" stroke-width="2.2"/>
<circle cx="275.5" cy="47.1" r="4" fill="#e80c0c" stroke="#111" stroke-width="0.8"/>
<text transform="translate(301.5 51.7) scale(1 1.06)" class="lg">MD</text>
<line x1="257.9" y1="66" x2="293.2" y2="66" stroke="#22e822" stroke-width="2.2"/>
<path d="M271.2 64.15H279.8L275.5 70.95Z" fill="#22e822" stroke="#1a1a1a" stroke-width="0.8"/>
<text transform="translate(301.5 70.6) scale(1 1.06)" class="lg">SD</text>
<line x1="259.1" y1="514" x2="294.4" y2="514" stroke="#000" stroke-width="2.2"/>
<circle cx="276.7" cy="514" r="4" fill="#000" stroke="#111" stroke-width="0.8"/>
<text transform="translate(302.7 518.6) scale(1 1.06)" class="lg">WW</text>
<line x1="259.1" y1="532.9" x2="294.4" y2="532.9" stroke="#e80c0c" stroke-width="2.2"/>
<circle cx="276.7" cy="532.9" r="4" fill="#e80c0c" stroke="#111" stroke-width="0.8"/>
<text transform="translate(302.7 537.5) scale(1 1.06)" class="lg">MD</text>
<line x1="259.1" y1="551.8" x2="294.4" y2="551.8" stroke="#22e822" stroke-width="2.2"/>
<path d="M272.4 549.95H281L276.7 556.75Z" fill="#22e822" stroke="#1a1a1a" stroke-width="0.8"/>
<text transform="translate(302.7 556.4) scale(1 1.06)" class="lg">SD</text>
<text transform="translate(11.6 151.6) rotate(-90)" text-anchor="start" class="yt">GBSS activity</text>
<g transform="translate(35.2 101.5) rotate(-90)"><text x="-86.17" y="0" textLength="35.7" lengthAdjust="spacingAndGlyphs" class="yt2">(nmol</text><text x="-45.39" y="0" textLength="17.39" lengthAdjust="spacingAndGlyphs" class="yt2">mg</text><text x="-25.95" y="-6.9" textLength="11.41" lengthAdjust="spacingAndGlyphs" class="yt2s">-1</text><text x="-9.55" y="0" textLength="74.29" lengthAdjust="spacingAndGlyphs" class="yt2">protein min</text><text x="69.07" y="-6.9" textLength="11.07" lengthAdjust="spacingAndGlyphs" class="yt2s">-1</text><text x="80.8" y="0" textLength="5.59" lengthAdjust="spacingAndGlyphs" class="yt2">)</text></g>
<text transform="translate(656.3 152.1) rotate(-90)" text-anchor="start" class="yt">GBSS activity</text>
<g transform="translate(678.2 101.85) rotate(-90)"><text x="-86.17" y="0" textLength="35.7" lengthAdjust="spacingAndGlyphs" class="yt2">(nmol</text><text x="-45.39" y="0" textLength="17.39" lengthAdjust="spacingAndGlyphs" class="yt2">mg</text><text x="-25.95" y="-6.9" textLength="11.41" lengthAdjust="spacingAndGlyphs" class="yt2s">-1</text><text x="-9.55" y="0" textLength="74.29" lengthAdjust="spacingAndGlyphs" class="yt2">protein min</text><text x="69.07" y="-6.9" textLength="11.07" lengthAdjust="spacingAndGlyphs" class="yt2s">-1</text><text x="80.8" y="0" textLength="5.59" lengthAdjust="spacingAndGlyphs" class="yt2">)</text></g>
<text transform="translate(16.2 372.3) rotate(-90)" text-anchor="start" class="yt">SSS activity</text>
<g transform="translate(38.7 322.4) rotate(-90)"><text x="-86.17" y="0" textLength="35.7" lengthAdjust="spacingAndGlyphs" class="yt2">(nmol</text><text x="-45.39" y="0" textLength="17.39" lengthAdjust="spacingAndGlyphs" class="yt2">mg</text><text x="-25.95" y="-6.9" textLength="11.41" lengthAdjust="spacingAndGlyphs" class="yt2s">-1</text><text x="-9.55" y="0" textLength="74.29" lengthAdjust="spacingAndGlyphs" class="yt2">protein min</text><text x="69.07" y="-6.9" textLength="11.07" lengthAdjust="spacingAndGlyphs" class="yt2s">-1</text><text x="80.8" y="0" textLength="5.59" lengthAdjust="spacingAndGlyphs" class="yt2">)</text></g>
<text transform="translate(655.6 372.6) rotate(-90)" text-anchor="start" class="yt">SSS activity</text>
<g transform="translate(677.2 322.55) rotate(-90)"><text x="-86.17" y="0" textLength="35.7" lengthAdjust="spacingAndGlyphs" class="yt2">(nmol</text><text x="-45.39" y="0" textLength="17.39" lengthAdjust="spacingAndGlyphs" class="yt2">mg</text><text x="-25.95" y="-6.9" textLength="11.41" lengthAdjust="spacingAndGlyphs" class="yt2s">-1</text><text x="-9.55" y="0" textLength="74.29" lengthAdjust="spacingAndGlyphs" class="yt2">protein min</text><text x="69.07" y="-6.9" textLength="11.07" lengthAdjust="spacingAndGlyphs" class="yt2s">-1</text><text x="80.8" y="0" textLength="5.59" lengthAdjust="spacingAndGlyphs" class="yt2">)</text></g>
<text transform="translate(13.6 634) rotate(-90)" text-anchor="start" class="yt">GBSS activity</text>
<g transform="translate(36.4 583.85) rotate(-90)"><text x="-86.17" y="0" textLength="35.7" lengthAdjust="spacingAndGlyphs" class="yt2">(nmol</text><text x="-45.39" y="0" textLength="17.39" lengthAdjust="spacingAndGlyphs" class="yt2">mg</text><text x="-25.95" y="-6.9" textLength="11.41" lengthAdjust="spacingAndGlyphs" class="yt2s">-1</text><text x="-9.55" y="0" textLength="74.29" lengthAdjust="spacingAndGlyphs" class="yt2">protein min</text><text x="69.07" y="-6.9" textLength="11.07" lengthAdjust="spacingAndGlyphs" class="yt2s">-1</text><text x="80.8" y="0" textLength="5.59" lengthAdjust="spacingAndGlyphs" class="yt2">)</text></g>
<text transform="translate(657.1 633.9) rotate(-90)" text-anchor="start" class="yt">GBSS activity</text>
<g transform="translate(680.3 583.85) rotate(-90)"><text x="-86.17" y="0" textLength="35.7" lengthAdjust="spacingAndGlyphs" class="yt2">(nmol</text><text x="-45.39" y="0" textLength="17.39" lengthAdjust="spacingAndGlyphs" class="yt2">mg</text><text x="-25.95" y="-6.9" textLength="11.41" lengthAdjust="spacingAndGlyphs" class="yt2s">-1</text><text x="-9.55" y="0" textLength="74.29" lengthAdjust="spacingAndGlyphs" class="yt2">protein min</text><text x="69.07" y="-6.9" textLength="11.07" lengthAdjust="spacingAndGlyphs" class="yt2s">-1</text><text x="80.8" y="0" textLength="5.59" lengthAdjust="spacingAndGlyphs" class="yt2">)</text></g>
<text transform="translate(17.7 854.7) rotate(-90)" text-anchor="start" class="yt">SSS activity</text>
<g transform="translate(39.9 803.95) rotate(-90)"><text x="-86.17" y="0" textLength="35.7" lengthAdjust="spacingAndGlyphs" class="yt2">(nmol</text><text x="-45.39" y="0" textLength="17.39" lengthAdjust="spacingAndGlyphs" class="yt2">mg</text><text x="-25.95" y="-6.9" textLength="11.41" lengthAdjust="spacingAndGlyphs" class="yt2s">-1</text><text x="-9.55" y="0" textLength="74.29" lengthAdjust="spacingAndGlyphs" class="yt2">protein min</text><text x="69.07" y="-6.9" textLength="11.07" lengthAdjust="spacingAndGlyphs" class="yt2s">-1</text><text x="80.8" y="0" textLength="5.59" lengthAdjust="spacingAndGlyphs" class="yt2">)</text></g>
<text transform="translate(657 854.3) rotate(-90)" text-anchor="start" class="yt">SSS activity</text>
<g transform="translate(678.4 804.65) rotate(-90)"><text x="-86.17" y="0" textLength="35.7" lengthAdjust="spacingAndGlyphs" class="yt2">(nmol</text><text x="-45.39" y="0" textLength="17.39" lengthAdjust="spacingAndGlyphs" class="yt2">mg</text><text x="-25.95" y="-6.9" textLength="11.41" lengthAdjust="spacingAndGlyphs" class="yt2s">-1</text><text x="-9.55" y="0" textLength="74.29" lengthAdjust="spacingAndGlyphs" class="yt2">protein min</text><text x="69.07" y="-6.9" textLength="11.07" lengthAdjust="spacingAndGlyphs" class="yt2s">-1</text><text x="80.8" y="0" textLength="5.59" lengthAdjust="spacingAndGlyphs" class="yt2">)</text></g>
</svg>
</body></html>
